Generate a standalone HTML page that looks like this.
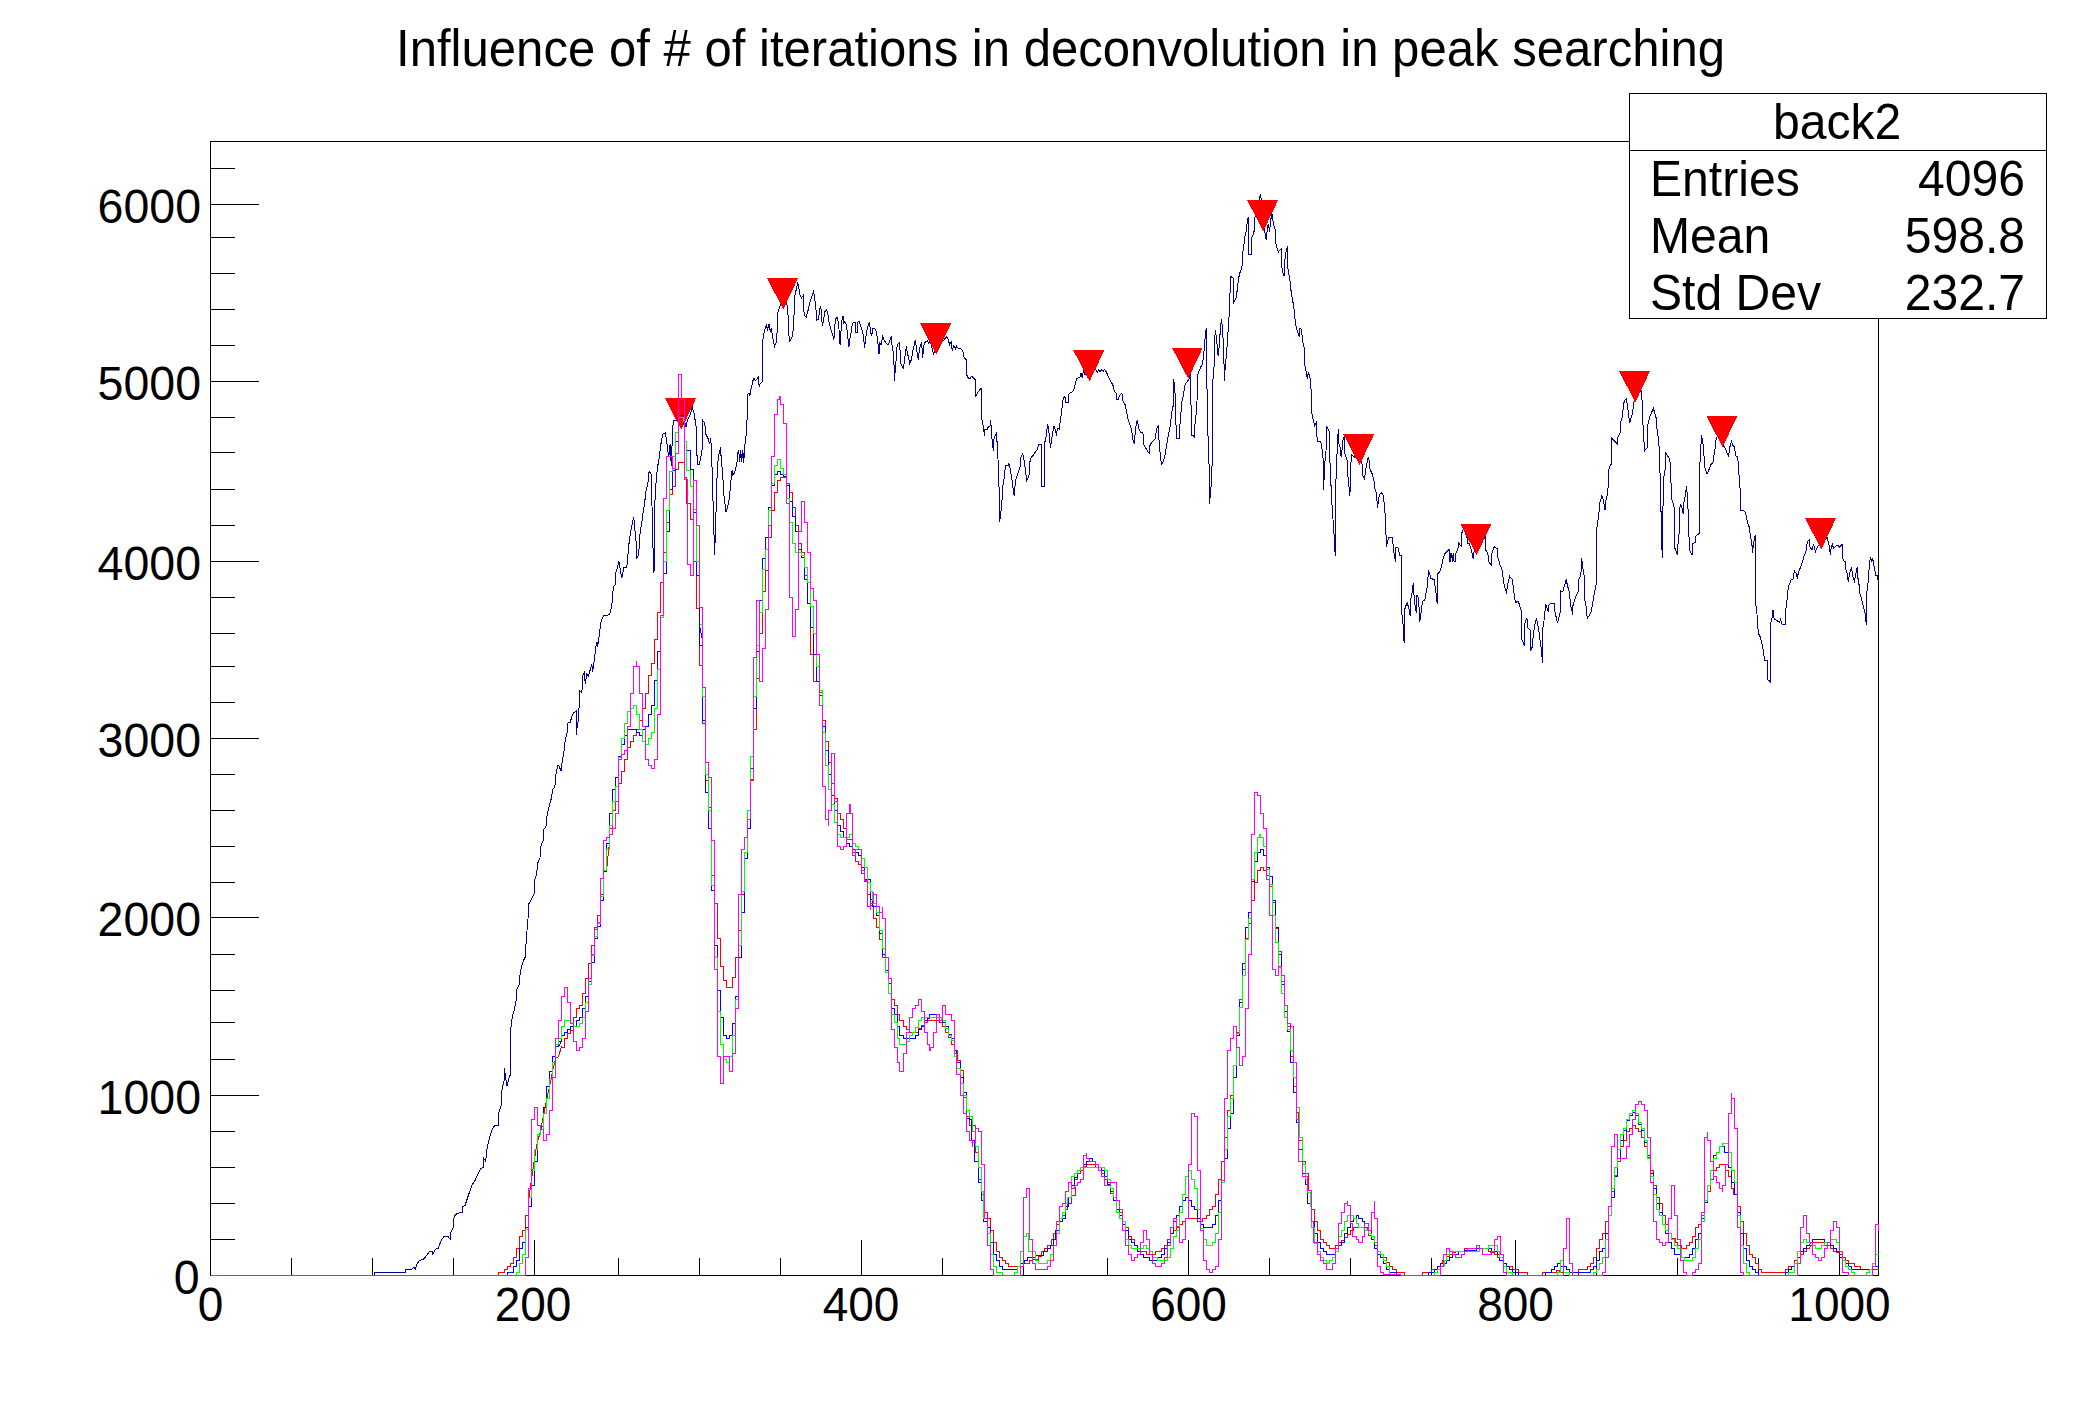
<!DOCTYPE html><html><head><meta charset="utf-8"><title>Influence of # of iterations in deconvolution in peak searching</title><style>html,body{margin:0;padding:0;background:#fff;overflow:hidden}svg{display:block}</style></head><body><svg width="2088" height="1416" viewBox="0 0 2088 1416">
<rect x="0" y="0" width="2088" height="1416" fill="#fff"/>
<g fill="none" stroke="#000" stroke-width="1" shape-rendering="crispEdges">
<rect x="210.5" y="141.5" width="1668" height="1134"/>
<path d="M210.5 168.5h24 M210.5 204.5h48 M210.5 237.5h24 M210.5 273.5h24 M210.5 309.5h24 M210.5 345.5h24 M210.5 381.5h48 M210.5 417.5h24 M210.5 452.5h24 M210.5 489.5h24 M210.5 525.5h24 M210.5 561.5h48 M210.5 597.5h24 M210.5 633.5h24 M210.5 666.5h24 M210.5 702.5h24 M210.5 738.5h48 M210.5 774.5h24 M210.5 810.5h24 M210.5 846.5h24 M210.5 882.5h24 M210.5 917.5h48 M210.5 954.5h24 M210.5 990.5h24 M210.5 1022.5h24 M210.5 1059.5h24 M210.5 1095.5h48 M210.5 1131.5h24 M210.5 1167.5h24 M210.5 1203.5h24 M210.5 1239.5h24 M291.5 1275.5v-18 M372.5 1275.5v-18 M453.5 1275.5v-18 M534.5 1275.5v-36 M618.5 1275.5v-18 M699.5 1275.5v-18 M780.5 1275.5v-18 M861.5 1275.5v-36 M942.5 1275.5v-18 M1023.5 1275.5v-18 M1107.5 1275.5v-18 M1188.5 1275.5v-36 M1269.5 1275.5v-18 M1350.5 1275.5v-18 M1431.5 1275.5v-18 M1515.5 1275.5v-36 M1596.5 1275.5v-18 M1677.5 1275.5v-18 M1758.5 1275.5v-18 M1839.5 1275.5v-36"/>
</g>
<path d="M374.9 1275.0L374.9 1272.4L405.6 1272.4L405.6 1269.4L412.5 1269.0L413.9 1267.1L415.1 1269.4L417.5 1263.1L419.5 1260.7L423.4 1259.1L425.4 1257.2L427.4 1254.2L429.3 1251.6L432.3 1251.6L432.9 1254.2L435.3 1249.3L438.2 1248.3L441.2 1240.4L444.2 1236.4L448.1 1236.4L450.1 1239.4L451.1 1231.5L453.1 1227.5L454.1 1216.6L457.0 1213.3L462.0 1212.7L462.6 1206.7L465.0 1205.7L466.9 1199.8L468.9 1193.9L471.9 1185.0L474.8 1181.0L477.8 1174.1L480.8 1168.2L483.2 1167.8L483.7 1158.3L485.7 1161.2L486.7 1150.3L489.7 1136.5L492.7 1128.2L494.6 1125.6L498.2 1125.6L498.6 1113.7L501.0 1105.8L502.1 1089.0L504.5 1079.1L504.5 1068.2L505.5 1077.2L507.1 1086.1L508.5 1079.1L510.1 1075.2L510.5 1031.7L512.4 1015.8L514.2 1010.1L515.9 1002.2L517.0 989.0L519.2 984.7L520.3 971.5L522.5 962.8L525.1 957.3L526.5 936.5L528.0 919.0L528.4 904.7L531.3 899.3L534.1 893.8L535.0 879.5L536.7 873.0L537.8 863.1L540.0 857.7L541.1 844.5L543.3 840.1L544.0 829.2L546.2 825.9L547.0 816.0L548.8 807.3L551.0 799.6L552.7 789.8L554.9 786.5L555.8 775.5L557.6 765.7L558.9 765.3L559.7 767.9L561.3 771.2L561.5 765.7L563.0 756.9L564.1 750.4L565.2 740.5L567.0 732.8L567.8 723.0L570.3 722.3L571.8 716.4L573.5 713.1L576.2 710.9L576.2 735.0L577.3 726.3L578.4 719.7L579.4 700.0L579.9 691.2L581.9 692.5L582.8 675.2L584.3 672.7L585.3 683.8L586.8 673.9L588.5 676.4L591.7 664.0L592.7 671.5L594.7 656.6L595.9 646.7L597.2 641.8L597.7 646.7L599.2 635.6L600.9 622.0L603.4 615.9L609.5 614.6L611.5 607.2L612.5 599.8L613.2 587.4L615.0 585.0L615.7 572.6L617.4 567.7L618.9 561.5L620.7 572.6L621.9 577.6L623.9 567.7L626.8 567.7L628.1 552.9L629.3 540.5L630.5 533.1L631.8 525.7L633.8 517.0L634.7 528.1L636.2 543.0L636.7 557.8L638.7 555.3L639.7 535.6L641.7 523.2L642.9 513.3L644.6 503.4L645.9 491.1L647.8 483.7L649.1 471.3L651.0 473.8L652.0 505.9L652.8 543.0L654.0 572.6L654.5 518.3L655.2 493.5L656.5 476.3L657.7 466.4L659.4 456.5L660.9 444.1L662.7 434.2L665.1 433.0L666.4 439.2L667.6 449.1L668.8 456.5L670.1 444.1L671.3 466.4L672.5 431.8L673.3 420.7L676.7 420.7L678.7 418.2L684.2 419.4L686.1 426.8L687.4 419.4L688.6 418.2L691.1 412.0L692.3 407.1L694.0 413.2L696.0 425.6L697.3 463.9L699.0 465.1L700.5 459.0L702.2 449.1L702.9 420.7L704.7 423.1L705.9 434.2L708.4 439.2L709.6 444.1L710.8 438.0L712.1 468.8L712.8 493.5L713.8 528.1L714.6 555.3L715.8 518.3L717.0 478.7L718.3 456.5L720.0 450.3L720.2 447.2L721.3 458.4L722.7 474.8L723.9 495.3L726.0 511.7L727.4 507.6L729.5 497.4L730.5 485.1L732.1 469.7L732.9 474.8L734.6 472.8L735.6 468.7L737.0 462.5L737.7 452.3L738.7 450.3L739.7 461.5L740.7 450.3L741.7 461.5L742.8 450.3L743.8 462.5L744.4 448.2L745.8 438.0L746.9 425.7L747.5 394.9L748.9 392.9L749.9 396.0L751.0 388.8L753.0 380.6L754.0 378.6L755.5 380.6L757.1 378.6L758.1 376.5L759.2 386.8L760.2 383.7L762.2 381.6L762.8 340.7L764.3 331.5L766.3 325.3L767.4 329.4L769.0 324.3L770.4 331.5L771.5 329.4L773.1 339.6L774.5 346.8L776.0 342.7L777.2 331.5L777.6 313.0L779.6 306.9L781.7 302.8L783.7 305.8L786.8 303.8L787.8 311.0L789.3 341.7L790.9 339.6L791.9 337.6L793.0 331.5L794.0 315.1L795.0 294.6L796.0 290.5L797.7 283.3L798.5 284.3L799.7 294.6L801.6 297.7L803.2 295.6L804.2 315.1L806.3 317.1L807.9 311.0L810.4 300.7L813.4 291.5L814.5 296.6L816.1 311.0L816.5 320.2L818.6 319.2L819.6 308.9L820.6 306.9L821.6 311.0L822.2 326.3L823.7 319.2L825.1 311.0L826.3 309.9L827.8 313.0L828.8 321.2L830.9 329.4L832.9 335.5L833.9 339.6L834.5 331.5L835.4 319.2L837.0 317.1L838.0 321.2L839.0 329.4L840.1 344.8L841.1 329.4L842.1 319.2L843.1 316.1L843.6 324.3L844.8 321.2L846.2 324.3L847.2 331.5L848.9 346.8L849.7 339.6L851.3 331.5L852.4 323.3L855.0 322.2L855.8 332.5L857.5 332.5L857.9 322.2L859.1 321.2L860.6 325.3L862.6 331.5L863.6 337.6L864.6 347.8L865.7 337.6L867.3 328.4L868.7 323.3L869.8 322.2L870.2 331.5L871.8 335.5L872.8 328.4L874.9 328.4L876.3 331.5L877.6 339.6L879.0 354.0L879.8 343.2L881.0 344.9L882.7 336.4L884.4 340.7L886.9 344.1L888.6 344.4L891.2 336.4L892.0 344.9L893.7 355.9L894.6 381.4L895.4 364.4L896.3 359.3L897.1 345.8L898.0 343.7L899.7 342.4L900.5 362.7L903.1 368.6L903.9 365.3L905.6 350.8L906.4 348.3L908.1 355.9L909.8 363.6L911.5 359.3L913.2 349.2L915.4 339.8L916.6 349.2L918.3 360.2L919.2 350.8L920.5 344.9L921.7 342.4L922.5 357.6L923.4 350.8L924.2 343.2L925.9 341.5L927.6 340.7L928.5 343.2L930.2 340.7L933.6 354.2L935.3 350.8L944.6 339.0L946.3 336.4L948.0 339.0L949.7 344.9L951.4 340.7L952.2 350.8L953.9 345.8L955.6 349.2L956.4 345.8L957.3 347.5L958.1 348.3L961.5 349.2L963.2 352.5L964.1 357.6L966.6 360.2L966.9 375.4L968.3 378.0L970.0 378.8L971.7 376.3L973.7 378.0L975.1 379.7L975.4 396.6L976.8 394.1L978.5 391.5L979.8 389.8L981.0 388.1L981.5 416.9L982.7 423.7L983.6 428.8L984.4 435.6L984.9 429.7L986.9 429.7L988.6 426.3L990.0 426.3L990.7 420.3L991.7 435.6L992.4 442.4L993.4 450.8L994.1 437.3L995.1 435.6L996.3 433.1L997.1 442.4L998.0 459.3L998.8 476.3L999.7 522.0L1000.5 513.6L1001.9 506.8L1002.2 489.8L1003.9 479.7L1005.6 465.3L1008.1 465.3L1008.6 462.7L1009.8 466.9L1011.5 476.3L1014.1 495.8L1014.9 486.4L1016.1 478.0L1017.5 474.6L1019.2 469.5L1020.0 466.9L1020.5 457.6L1022.5 454.2L1023.4 455.9L1025.1 467.8L1026.8 480.5L1028.0 478.0L1029.3 474.6L1029.7 462.7L1031.0 457.6L1032.7 455.9L1034.4 453.4L1036.9 450.0L1038.6 444.9L1041.2 444.9L1041.5 486.4L1044.2 486.4L1044.6 444.1L1045.4 439.0L1046.3 435.6L1047.6 423.7L1048.8 430.5L1050.5 447.5L1052.2 435.6L1053.9 426.3L1054.7 428.0L1055.6 430.5L1056.4 435.6L1057.3 428.8L1059.0 428.8L1059.2 429.7L1060.1 422.0L1061.8 410.2L1062.6 401.7L1064.3 396.6L1065.5 397.5L1066.0 402.5L1068.2 402.5L1068.6 394.1L1070.3 392.9L1072.8 391.5L1074.5 388.1L1075.3 383.9L1076.7 378.8L1077.9 378.0L1080.1 377.1L1080.8 372.9L1082.5 378.0L1083.0 372.9L1083.8 370.3L1084.7 374.6L1088.9 372.9L1095.7 369.5L1097.4 372.0L1098.7 369.8L1099.9 372.0L1101.6 369.8L1103.3 371.2L1104.5 369.5L1105.8 371.2L1107.5 374.6L1109.2 378.8L1111.8 383.1L1113.5 386.4L1114.3 391.5L1116.0 393.2L1116.4 399.2L1118.6 399.2L1119.4 395.8L1121.9 393.2L1122.8 400.8L1125.3 405.1L1126.2 410.2L1127.9 418.6L1129.6 423.7L1131.3 428.8L1133.0 439.8L1134.3 444.1L1135.5 428.8L1137.2 420.3L1138.9 428.8L1140.6 432.2L1142.8 432.2L1144.0 444.9L1146.5 449.2L1149.1 453.4L1149.9 445.8L1151.6 442.4L1153.3 440.7L1155.0 439.0L1155.8 433.9L1156.7 428.8L1158.1 426.3L1158.7 435.6L1160.1 452.5L1161.4 464.4L1163.5 461.0L1165.2 454.2L1166.9 444.1L1168.6 433.9L1170.3 425.4L1171.9 411.9L1173.3 405.1L1173.6 378.8L1174.5 386.4L1175.7 401.7L1176.2 438.1L1179.1 438.1L1179.6 428.8L1181.3 408.5L1182.1 400.0L1183.5 394.9L1184.7 386.4L1185.5 383.9L1187.2 381.4L1188.9 379.7L1189.7 377.1L1190.6 372.9L1191.4 435.6L1193.6 435.6L1194.3 438.1L1194.8 425.4L1196.0 415.3L1197.0 401.7L1197.4 376.3L1198.2 372.9L1199.9 369.5L1200.8 366.9L1202.5 364.4L1203.8 354.2L1204.5 344.1L1205.5 333.9L1206.2 328.0L1206.7 381.4L1207.5 401.7L1207.9 432.2L1209.2 469.5L1209.6 504.2L1210.6 489.8L1211.8 483.1L1212.6 418.6L1213.0 379.7L1214.0 367.8L1214.3 354.2L1215.2 330.5L1215.7 332.2L1216.9 342.4L1218.1 355.9L1219.1 347.5L1220.3 330.5L1221.4 318.6L1222.5 328.8L1223.6 349.2L1224.5 381.4L1225.3 364.4L1226.2 357.6L1227.0 347.5L1227.9 333.9L1228.7 322.0L1229.6 308.5L1229.7 300.5L1230.7 276.3L1233.2 278.2L1233.6 302.5L1235.5 299.6L1236.5 295.7L1238.4 280.1L1239.4 274.3L1241.4 268.5L1242.3 264.6L1242.9 252.0L1244.3 242.3L1244.9 236.5L1246.2 231.6L1247.2 221.9L1248.2 217.0L1248.7 254.9L1251.5 254.9L1252.0 237.4L1253.4 233.5L1254.6 229.7L1255.0 217.0L1256.9 212.2L1259.8 196.7L1260.8 194.7L1261.2 200.5L1264.7 230.6L1266.2 240.3L1267.6 226.7L1268.5 223.8L1269.5 231.6L1270.9 219.0L1272.0 214.1L1273.4 223.8L1275.3 229.7L1275.9 243.3L1277.3 249.1L1278.3 252.0L1280.2 250.0L1281.2 249.1L1282.1 270.4L1284.1 276.3L1285.0 258.8L1286.0 252.0L1287.6 246.2L1288.0 268.5L1289.9 280.1L1290.9 289.9L1292.8 301.5L1293.8 306.4L1294.8 317.0L1295.7 324.8L1297.7 332.6L1299.2 336.5L1300.0 327.7L1301.6 329.7L1302.5 340.3L1304.5 349.1L1305.0 365.6L1306.4 373.3L1307.4 379.2L1308.3 372.4L1309.7 376.3L1310.9 381.1L1311.3 410.2L1313.2 420.0L1314.8 425.8L1316.7 420.9L1317.1 441.3L1320.0 441.3L1321.0 443.3L1321.4 444.1L1322.3 451.4L1323.3 460.6L1323.5 490.0L1324.6 469.8L1325.1 458.8L1326.0 451.4L1326.4 426.6L1328.2 429.4L1329.3 431.2L1329.7 455.1L1330.6 477.2L1331.9 502.9L1333.0 519.4L1334.3 537.8L1335.2 556.2L1335.6 488.2L1336.7 464.3L1337.4 442.3L1338.3 429.4L1338.5 443.2L1339.8 445.0L1340.7 455.1L1341.6 456.0L1342.6 441.3L1344.0 436.7L1344.8 453.3L1345.9 457.0L1347.2 460.6L1348.1 479.0L1349.9 495.5L1350.5 479.0L1350.8 464.3L1351.7 455.1L1357.3 458.8L1361.8 460.6L1362.8 475.3L1364.6 479.9L1365.5 469.8L1366.4 466.1L1368.3 457.0L1369.2 460.6L1370.1 469.8L1372.0 473.5L1373.8 479.0L1374.7 488.2L1376.5 493.7L1377.5 507.5L1378.4 501.0L1379.3 494.6L1381.1 492.8L1383.0 494.6L1383.9 501.0L1384.8 510.2L1385.7 521.3L1386.3 547.0L1387.6 541.5L1388.9 537.8L1392.2 537.8L1393.1 545.1L1394.0 552.5L1395.5 561.7L1395.8 547.0L1396.8 547.0L1398.6 548.8L1399.5 555.2L1401.3 555.2L1401.7 613.1L1402.8 620.5L1404.1 642.5L1404.7 609.4L1405.9 605.8L1407.2 603.0L1408.7 607.6L1410.2 615.9L1410.9 598.4L1412.0 592.9L1413.3 582.8L1414.2 598.4L1415.1 605.8L1416.4 613.1L1417.0 594.7L1417.9 596.6L1418.8 602.1L1419.7 622.3L1421.2 611.3L1422.5 601.2L1424.3 600.3L1425.2 598.4L1426.2 592.0L1427.4 585.6L1428.5 570.9L1429.8 573.6L1430.7 578.2L1432.6 579.1L1434.4 579.1L1435.3 589.2L1436.3 594.7L1437.2 603.9L1437.7 573.6L1439.6 571.8L1440.8 569.0L1441.8 565.3L1443.2 558.0L1444.5 554.3L1445.8 552.5L1447.3 551.6L1448.7 549.7L1449.5 549.7L1450.0 561.7L1451.0 553.4L1451.9 556.2L1452.4 561.7L1453.2 552.7L1453.8 561.0L1455.3 561.6L1455.7 553.4L1457.0 550.8L1458.3 547.7L1458.6 543.2L1460.2 545.1L1461.4 546.4L1461.4 534.3L1462.7 530.5L1464.0 529.2L1467.2 538.1L1467.2 543.2L1469.1 543.2L1470.3 547.0L1471.6 550.8L1473.1 558.5L1473.5 553.4L1474.8 550.8L1479.2 543.2L1484.3 538.1L1485.3 536.9L1485.3 549.6L1486.2 550.8L1487.9 553.4L1488.4 561.6L1491.3 564.8L1491.9 553.4L1493.2 549.6L1494.5 546.4L1495.7 547.7L1497.3 548.9L1497.7 556.6L1499.6 563.5L1500.8 566.7L1502.7 572.4L1503.4 582.0L1504.6 586.4L1505.9 590.9L1506.6 594.0L1507.2 586.4L1508.5 581.3L1509.5 576.2L1511.0 578.2L1512.3 579.4L1513.5 589.0L1514.2 594.0L1514.8 598.5L1515.4 602.9L1516.7 601.7L1518.0 601.0L1519.3 604.2L1521.2 610.6L1521.4 638.5L1523.1 642.3L1524.3 645.5L1524.6 623.9L1525.6 620.7L1526.9 618.2L1527.8 627.7L1529.4 629.6L1530.1 630.3L1530.3 651.2L1531.3 649.3L1532.6 646.1L1533.2 634.7L1534.1 629.6L1535.1 623.3L1536.4 618.2L1537.7 624.5L1539.0 632.2L1540.2 641.1L1541.5 650.0L1542.5 663.3L1543.0 627.1L1544.0 620.7L1545.1 610.6L1545.6 604.2L1546.6 606.7L1547.6 609.3L1548.1 611.8L1548.5 605.5L1550.4 603.6L1551.7 603.6L1554.2 603.6L1554.8 610.6L1556.1 616.9L1557.4 623.3L1558.0 620.7L1559.3 615.6L1560.3 611.8L1560.6 590.9L1561.8 591.5L1563.4 590.9L1563.7 587.7L1565.0 583.9L1566.3 579.4L1567.5 586.4L1568.8 589.0L1569.5 594.0L1570.7 605.5L1572.0 610.6L1572.6 615.0L1573.0 605.5L1573.9 602.9L1575.2 597.9L1576.4 595.3L1577.7 592.8L1578.6 590.9L1579.0 579.4L1579.6 577.5L1580.9 575.0L1581.5 558.5L1582.4 563.5L1583.4 573.1L1584.5 576.2L1584.7 599.1L1586.0 605.5L1587.2 618.2L1589.2 615.6L1591.1 611.8L1592.3 605.5L1593.6 597.9L1594.9 590.2L1596.4 582.6L1596.8 528.0L1597.7 522.9L1598.4 516.5L1599.3 510.2L1600.0 502.5L1601.9 495.3L1603.3 500.4L1605.1 510.1L1605.6 501.9L1607.0 496.0L1607.8 491.6L1608.5 481.2L1608.5 470.8L1610.0 466.4L1611.5 463.4L1611.5 438.2L1613.7 440.4L1617.4 444.1L1617.4 438.2L1618.9 435.2L1620.4 432.3L1620.8 421.9L1622.6 416.0L1623.4 404.1L1624.8 400.4L1626.3 398.9L1627.8 408.5L1629.7 423.4L1630.8 418.9L1632.2 414.5L1633.3 407.1L1634.2 401.1L1637.4 395.2L1641.1 390.8L1641.9 396.7L1642.6 416.0L1643.4 433.7L1644.6 450.8L1645.6 449.3L1647.1 447.8L1647.5 426.3L1648.6 421.9L1650.0 416.0L1652.0 411.5L1653.4 408.5L1655.2 414.5L1656.4 418.9L1657.0 429.3L1658.2 436.7L1658.9 444.1L1659.7 458.9L1660.4 488.6L1661.2 518.2L1661.4 540.5L1662.6 558.3L1662.9 510.8L1663.4 491.6L1664.1 473.8L1664.9 473.8L1665.6 453.0L1667.8 456.0L1669.3 458.9L1670.8 464.9L1671.2 497.5L1673.0 503.4L1674.5 508.6L1674.8 547.9L1677.5 555.3L1678.2 540.5L1679.2 533.1L1680.1 504.2L1681.6 506.4L1683.1 513.8L1684.1 501.2L1685.6 494.5L1686.4 486.4L1687.1 493.0L1687.8 504.9L1688.6 519.7L1689.3 549.4L1692.3 555.3L1692.6 543.4L1695.2 542.7L1695.5 536.8L1697.5 534.5L1699.0 533.8L1699.0 472.3L1700.0 461.9L1700.9 450.0L1701.2 435.2L1702.7 441.2L1703.8 450.0L1704.4 466.4L1705.9 470.8L1707.1 473.8L1708.6 470.8L1710.1 466.4L1710.8 464.9L1713.0 462.6L1713.8 456.0L1715.3 447.1L1716.0 439.7L1717.5 435.2L1722.3 442.4L1723.3 445.6L1725.4 448.7L1727.5 454.0L1728.6 456.2L1729.7 447.7L1731.4 441.3L1732.8 445.6L1734.3 446.6L1736.0 456.2L1737.7 457.2L1738.6 467.8L1739.2 478.4L1740.3 491.1L1740.3 510.2L1743.4 510.2L1745.6 512.3L1746.6 518.7L1747.7 522.9L1749.2 527.1L1750.4 535.6L1751.9 544.1L1752.6 552.6L1753.4 544.1L1754.7 537.7L1755.5 534.6L1755.5 601.3L1757.2 616.1L1758.3 633.1L1760.4 637.3L1762.5 645.8L1763.6 652.2L1764.6 660.6L1767.4 660.6L1767.8 679.7L1770.4 681.8L1770.4 624.6L1772.0 618.3L1773.1 609.8L1774.2 619.3L1776.7 620.4L1779.5 622.5L1780.5 619.3L1781.6 623.6L1783.1 624.6L1785.2 624.6L1785.8 609.8L1786.9 601.3L1787.9 590.7L1789.0 585.4L1791.1 580.1L1793.2 579.1L1794.3 570.6L1796.4 573.8L1797.5 579.1L1797.9 574.8L1799.6 569.5L1801.7 564.2L1802.8 561.1L1803.8 556.8L1806.0 551.5L1806.4 546.2L1808.1 540.9L1809.1 539.9L1810.2 548.3L1812.3 549.4L1813.4 544.1L1815.5 551.5L1817.6 546.2L1821.8 544.1L1827.1 537.7L1829.3 546.2L1830.3 554.7L1831.4 546.2L1832.4 544.1L1833.5 548.3L1835.6 546.2L1837.7 545.2L1839.9 547.3L1842.0 544.1L1842.4 557.9L1844.1 561.1L1845.2 561.1L1845.8 569.5L1847.3 573.8L1848.3 582.2L1849.4 573.8L1851.5 567.4L1852.6 575.9L1854.3 581.2L1855.8 573.8L1857.2 567.4L1857.9 578.0L1858.9 582.2L1859.4 592.8L1861.1 597.1L1863.2 605.6L1864.9 611.9L1866.3 624.6L1867.0 590.7L1868.5 580.1L1869.5 561.1L1870.6 557.9L1871.6 561.1L1872.7 558.9L1874.8 569.5L1875.9 575.9L1877.6 575.9L1878.2 582.2" fill="none" stroke="#000099" stroke-width="1" shape-rendering="crispEdges"/>
<path d="M665.0 398.4H696.0L681.3 429.6ZM767.0 278.2H798.0L783.3 309.4ZM920.1 323.4H951.1L936.4 354.6ZM1073.3 350.3H1104.3L1089.6 381.5ZM1171.9 347.5H1202.9L1188.2 378.7ZM1247.1 200.1H1278.1L1263.4 231.3ZM1343.2 434.0H1374.2L1359.5 465.2ZM1460.3 523.9H1491.3L1476.6 555.1ZM1619.0 371.2H1650.0L1635.3 402.4ZM1706.3 415.9H1737.3L1722.6 447.1ZM1805.0 518.2H1836.0L1821.3 549.4Z" fill="#ff0000" stroke="none" shape-rendering="crispEdges"/>
<path d="M210.5 1275.5L495.5 1275.5L498.5 1275.5L498.5 1272.5L504.5 1272.5L504.5 1269.5L507.5 1269.5L507.5 1266.5L510.5 1266.5L510.5 1263.5L513.5 1263.5L513.5 1257.5L516.5 1257.5L516.5 1248.5L519.5 1248.5L519.5 1236.5L522.5 1236.5L522.5 1230.5L525.5 1230.5L525.5 1215.5L528.5 1215.5L528.5 1201.5L531.5 1179.5L534.5 1158.5L537.5 1141.5L540.5 1131.5L543.5 1115.5L546.5 1100.5L549.5 1086.5L552.5 1071.5L555.5 1058.5L558.5 1056.5L561.5 1046.5L561.5 1047.5L564.5 1047.5L564.5 1038.5L567.5 1038.5L567.5 1033.5L570.5 1033.5L570.5 1030.5L573.5 1030.5L573.5 1017.5L576.5 1017.5L576.5 1008.5L579.5 1008.5L579.5 1005.5L582.5 1005.5L582.5 993.5L585.5 993.5L585.5 978.5L588.5 978.5L588.5 963.5L591.5 963.5L591.5 945.5L594.5 945.5L594.5 927.5L597.5 927.5L597.5 915.5L600.5 915.5L600.5 894.5L603.5 894.5L603.5 871.5L606.5 871.5L606.5 870.5L609.5 842.5L609.5 828.5L612.5 828.5L612.5 810.5L615.5 810.5L615.5 801.5L618.5 801.5L618.5 783.5L621.5 783.5L621.5 771.5L624.5 771.5L624.5 759.5L627.5 759.5L627.5 747.5L630.5 747.5L630.5 741.5L633.5 741.5L633.5 735.5L636.5 735.5L636.5 729.5L639.5 729.5L639.5 720.5L642.5 720.5L642.5 708.5L645.5 708.5L645.5 693.5L648.5 693.5L648.5 675.5L651.5 675.5L651.5 663.5L654.5 663.5L654.5 639.5L657.5 639.5L657.5 620.5L657.5 612.5L660.5 612.5L660.5 582.5L663.5 582.5L663.5 552.5L666.5 552.5L666.5 522.5L669.5 522.5L669.5 494.5L672.5 494.5L672.5 486.5L675.5 486.5L675.5 469.5L678.5 469.5L678.5 462.5L684.5 462.5L684.5 477.5L686.5 477.5L686.5 503.5L690.5 503.5L690.5 519.5L693.5 519.5L693.5 561.5L696.5 561.5L696.5 608.5L699.5 608.5L699.5 640.5L699.5 620.5L699.5 665.5L702.5 665.5L702.5 723.5L705.5 723.5L705.5 780.5L708.5 780.5L708.5 807.5L711.5 807.5L711.5 860.5L711.5 860.5L711.5 875.5L714.5 875.5L714.5 903.5L717.5 903.5L717.5 938.5L720.5 938.5L720.5 966.5L723.5 966.5L723.5 980.5L726.5 980.5L726.5 987.5L732.5 987.5L732.5 977.5L735.5 977.5L735.5 957.5L738.5 957.5L738.5 930.5L741.5 930.5L741.5 894.5L744.5 894.5L744.5 860.5L744.5 860.5L744.5 852.5L747.5 852.5L747.5 828.5L750.5 828.5L750.5 780.5L753.5 780.5L753.5 729.5L756.5 729.5L756.5 678.5L759.5 678.5L759.5 633.5L762.5 633.5L762.5 620.5L762.5 620.5L762.5 591.5L765.5 591.5L765.5 570.5L768.5 570.5L768.5 537.5L771.5 537.5L771.5 510.5L774.5 510.5L774.5 492.5L777.5 492.5L777.5 480.5L780.5 480.5L780.5 477.5L786.5 477.5L786.5 483.5L789.5 483.5L789.5 492.5L792.5 492.5L792.5 507.5L795.5 507.5L795.5 525.5L798.5 525.5L798.5 543.5L801.5 543.5L801.5 552.5L804.5 552.5L804.5 575.5L807.5 575.5L807.5 582.5L810.5 582.5L810.5 639.5L810.5 639.5L810.5 654.5L813.5 654.5L813.5 681.5L819.5 681.5L819.5 692.5L822.5 692.5L822.5 720.5L825.5 720.5L825.5 741.5L828.5 741.5L828.5 762.5L831.5 762.5L831.5 783.5L834.5 783.5L834.5 798.5L837.5 798.5L837.5 813.5L840.5 813.5L840.5 819.5L843.5 819.5L843.5 828.5L846.5 828.5L846.5 839.5L852.5 839.5L852.5 852.5L855.5 852.5L855.5 861.5L858.5 861.5L858.5 864.5L861.5 864.5L861.5 873.5L864.5 873.5L864.5 881.5L867.5 881.5L867.5 894.5L870.5 894.5L870.5 900.5L870.5 899.5L870.5 905.5L873.5 905.5L873.5 918.5L876.5 918.5L876.5 927.5L879.5 927.5L879.5 939.5L882.5 939.5L882.5 957.5L885.5 957.5L885.5 970.5L888.5 970.5L888.5 983.5L891.5 983.5L891.5 999.5L894.5 999.5L894.5 1005.5L897.5 1005.5L897.5 1014.5L899.5 1014.5L899.5 1020.5L903.5 1020.5L903.5 1026.5L906.5 1026.5L906.5 1029.5L909.5 1029.5L909.5 1032.5L918.5 1032.5L918.5 1028.5L921.5 1028.5L921.5 1025.5L924.5 1025.5L924.5 1022.5L927.5 1022.5L927.5 1020.5L939.5 1020.5L939.5 1022.5L942.5 1022.5L942.5 1026.5L945.5 1026.5L945.5 1032.5L948.5 1032.5L948.5 1037.5L951.5 1037.5L951.5 1044.5L954.5 1044.5L954.5 1050.5L957.5 1050.5L957.5 1060.5L960.5 1060.5L960.5 1070.5L963.5 1070.5L963.5 1080.5L963.5 1097.5L966.5 1097.5L966.5 1116.5L969.5 1116.5L969.5 1125.5L971.5 1125.5L975.5 1125.5L975.5 1152.5L978.5 1152.5L978.5 1179.5L981.5 1179.5L981.5 1194.5L983.5 1194.5L983.5 1212.5L987.5 1212.5L987.5 1218.5L990.5 1218.5L990.5 1230.5L993.5 1230.5L993.5 1242.5L996.5 1242.5L996.5 1251.5L999.5 1251.5L999.5 1257.5L1002.5 1257.5L1002.5 1260.5L1005.5 1260.5L1005.5 1263.5L1008.5 1263.5L1008.5 1266.5L1020.5 1266.5L1020.5 1263.5L1029.5 1263.5L1029.5 1260.5L1032.5 1260.5L1032.5 1259.5L1038.5 1259.5L1038.5 1256.5L1041.5 1256.5L1041.5 1251.5L1044.5 1251.5L1044.5 1248.5L1047.5 1248.5L1047.5 1245.5L1051.5 1245.5L1051.5 1239.5L1053.5 1239.5L1053.5 1233.5L1056.5 1233.5L1056.5 1224.5L1059.5 1224.5L1059.5 1221.5L1062.5 1221.5L1062.5 1215.5L1065.5 1215.5L1065.5 1209.5L1067.5 1209.5L1067.5 1203.5L1071.5 1203.5L1071.5 1195.5L1075.5 1195.5L1075.5 1187.5L1074.5 1187.5L1074.5 1179.5L1077.5 1179.5L1077.5 1173.5L1080.5 1173.5L1080.5 1170.5L1083.5 1170.5L1083.5 1166.5L1086.5 1166.5L1086.5 1164.5L1095.5 1164.5L1095.5 1167.5L1098.5 1167.5L1098.5 1170.5L1101.5 1170.5L1101.5 1173.5L1104.5 1173.5L1104.5 1179.5L1107.5 1179.5L1107.5 1182.5L1110.5 1182.5L1110.5 1193.5L1113.5 1193.5L1113.5 1197.5L1116.5 1197.5L1116.5 1209.5L1119.5 1209.5L1119.5 1212.5L1122.5 1212.5L1122.5 1221.5L1125.5 1221.5L1125.5 1227.5L1128.5 1227.5L1128.5 1236.5L1131.5 1236.5L1131.5 1239.5L1134.5 1239.5L1134.5 1245.5L1137.5 1245.5L1137.5 1248.5L1140.5 1248.5L1140.5 1251.5L1146.5 1251.5L1146.5 1254.5L1155.5 1254.5L1155.5 1251.5L1161.5 1251.5L1161.5 1248.5L1164.5 1248.5L1164.5 1245.5L1167.5 1245.5L1167.5 1239.5L1170.5 1239.5L1170.5 1233.5L1173.5 1233.5L1173.5 1230.5L1176.5 1230.5L1176.5 1226.5L1179.5 1226.5L1179.5 1224.5L1182.5 1224.5L1182.5 1221.5L1185.5 1221.5L1185.5 1218.5L1197.5 1218.5L1197.5 1221.5L1200.5 1221.5L1199.5 1221.5L1202.5 1221.5L1202.5 1218.5L1206.5 1218.5L1206.5 1215.5L1209.5 1215.5L1209.5 1209.5L1212.5 1209.5L1212.5 1206.5L1215.5 1206.5L1215.5 1194.5L1218.5 1194.5L1218.5 1179.5L1221.5 1179.5L1221.5 1161.5L1224.5 1161.5L1224.5 1137.5L1227.5 1137.5L1227.5 1110.5L1230.5 1110.5L1230.5 1095.5L1233.5 1095.5L1233.5 1065.5L1236.5 1065.5L1236.5 1040.5L1236.5 1039.5L1236.5 1032.5L1239.5 1032.5L1239.5 999.5L1242.5 999.5L1242.5 969.5L1245.5 969.5L1245.5 938.5L1248.5 938.5L1248.5 923.5L1251.5 923.5L1251.5 900.5L1254.5 900.5L1254.5 882.5L1257.5 882.5L1257.5 870.5L1260.5 870.5L1260.5 867.5L1263.5 867.5L1263.5 870.5L1266.5 870.5L1266.5 875.5L1269.5 875.5L1269.5 886.5L1272.5 886.5L1272.5 902.5L1275.5 902.5L1275.5 928.5L1278.5 928.5L1278.5 951.5L1281.5 951.5L1281.5 981.5L1284.5 981.5L1284.5 1011.5L1287.5 1011.5L1287.5 1026.5L1290.5 1026.5L1290.5 1050.5L1290.5 1050.5L1290.5 1056.5L1293.5 1056.5L1293.5 1086.5L1296.5 1086.5L1296.5 1112.5L1298.5 1112.5L1298.5 1140.5L1302.5 1140.5L1302.5 1161.5L1305.5 1161.5L1305.5 1173.5L1308.5 1173.5L1308.5 1190.5L1311.5 1190.5L1311.5 1209.5L1314.5 1209.5L1314.5 1221.5L1317.5 1221.5L1317.5 1230.5L1320.5 1230.5L1320.5 1239.5L1323.5 1239.5L1323.5 1242.5L1326.5 1242.5L1326.5 1245.5L1329.5 1245.5L1329.5 1248.5L1335.5 1248.5L1335.5 1245.5L1338.5 1245.5L1338.5 1242.5L1341.5 1242.5L1341.5 1240.5L1344.5 1240.5L1344.5 1237.5L1347.5 1237.5L1347.5 1234.5L1350.5 1234.5L1350.5 1230.5L1353.5 1230.5L1353.5 1227.5L1367.5 1227.5L1367.5 1230.5L1368.5 1230.5L1368.5 1235.5L1371.5 1235.5L1371.5 1239.5L1374.5 1239.5L1374.5 1245.5L1377.5 1245.5L1377.5 1251.5L1380.5 1251.5L1380.5 1254.5L1383.5 1254.5L1383.5 1257.5L1386.5 1257.5L1386.5 1262.5L1389.5 1262.5L1389.5 1266.5L1392.5 1266.5L1392.5 1269.5L1396.5 1269.5L1396.5 1272.5L1400.5 1272.5L1400.5 1272.5L1404.5 1272.5L1404.5 1275.5L1422.5 1275.5L1422.5 1272.5L1431.5 1272.5L1431.5 1269.5L1437.5 1269.5L1437.5 1266.5L1440.5 1266.5L1440.5 1263.5L1442.5 1263.5L1442.5 1260.5L1446.5 1260.5L1446.5 1256.5L1449.5 1256.5L1449.5 1254.5L1452.5 1254.5L1452.5 1252.5L1455.5 1252.5L1455.5 1251.5L1464.5 1251.5L1464.5 1248.5L1479.5 1248.5L1479.5 1248.5L1488.5 1248.5L1488.5 1251.5L1490.5 1251.5L1490.5 1252.5L1494.5 1252.5L1494.5 1254.5L1497.5 1254.5L1497.5 1257.5L1499.5 1257.5L1499.5 1260.5L1503.5 1260.5L1503.5 1263.5L1506.5 1263.5L1506.5 1266.5L1512.5 1266.5L1512.5 1269.5L1518.5 1269.5L1518.5 1272.5L1527.5 1272.5L1527.5 1275.5L1542.5 1275.5L1542.5 1272.5L1556.5 1272.5L1556.5 1270.5L1560.5 1270.5L1559.5 1272.5L1572.5 1272.5L1572.5 1275.5L1578.5 1275.5L1578.5 1269.5L1587.5 1269.5L1587.5 1266.5L1590.5 1266.5L1590.5 1263.5L1593.5 1263.5L1593.5 1257.5L1596.5 1257.5L1596.5 1248.5L1599.5 1248.5L1599.5 1239.5L1602.5 1239.5L1602.5 1233.5L1605.5 1233.5L1605.5 1221.5L1608.5 1221.5L1608.5 1206.5L1611.5 1206.5L1611.5 1191.5L1614.5 1191.5L1614.5 1175.5L1617.5 1175.5L1617.5 1161.5L1620.5 1161.5L1620.5 1146.5L1623.5 1146.5L1623.5 1140.5L1626.5 1140.5L1626.5 1131.5L1629.5 1131.5L1629.5 1128.5L1632.5 1128.5L1632.5 1125.5L1635.5 1125.5L1635.5 1128.5L1638.5 1128.5L1638.5 1131.5L1641.5 1131.5L1641.5 1137.5L1644.5 1137.5L1644.5 1146.5L1647.5 1146.5L1647.5 1157.5L1650.5 1157.5L1650.5 1170.5L1653.5 1170.5L1653.5 1185.5L1656.5 1185.5L1656.5 1197.5L1659.5 1197.5L1659.5 1203.5L1662.5 1203.5L1662.5 1215.5L1665.5 1215.5L1665.5 1224.5L1668.5 1224.5L1668.5 1233.5L1671.5 1233.5L1671.5 1238.5L1675.5 1238.5L1675.5 1242.5L1677.5 1242.5L1677.5 1245.5L1681.5 1245.5L1681.5 1248.5L1684.5 1248.5L1684.5 1248.5L1686.5 1248.5L1686.5 1245.5L1689.5 1245.5L1689.5 1242.5L1692.5 1242.5L1692.5 1236.5L1695.5 1236.5L1695.5 1227.5L1698.5 1227.5L1698.5 1224.5L1701.5 1224.5L1701.5 1215.5L1704.5 1215.5L1704.5 1202.5L1707.5 1202.5L1707.5 1191.5L1710.5 1191.5L1710.5 1179.5L1713.5 1179.5L1713.5 1170.5L1716.5 1170.5L1716.5 1167.5L1719.5 1167.5L1719.5 1164.5L1725.5 1164.5L1725.5 1170.5L1728.5 1170.5L1728.5 1176.5L1731.5 1176.5L1731.5 1188.5L1733.5 1188.5L1733.5 1194.5L1737.5 1194.5L1737.5 1206.5L1740.5 1206.5L1740.5 1221.5L1743.5 1221.5L1743.5 1233.5L1746.5 1233.5L1746.5 1245.5L1749.5 1245.5L1749.5 1254.5L1752.5 1254.5L1752.5 1257.5L1755.5 1257.5L1755.5 1263.5L1758.5 1263.5L1758.5 1269.5L1761.5 1269.5L1761.5 1272.5L1785.5 1272.5L1785.5 1269.5L1788.5 1269.5L1788.5 1266.5L1794.5 1266.5L1794.5 1260.5L1797.5 1260.5L1797.5 1257.5L1800.5 1257.5L1800.5 1254.5L1803.5 1254.5L1803.5 1251.5L1806.5 1251.5L1806.5 1248.5L1809.5 1248.5L1810.5 1245.5L1812.5 1245.5L1812.5 1242.5L1824.5 1242.5L1824.5 1245.5L1830.5 1245.5L1830.5 1248.5L1833.5 1248.5L1833.5 1251.5L1836.5 1251.5L1836.5 1252.5L1839.5 1252.5L1839.5 1254.5L1842.5 1254.5L1842.5 1257.5L1845.5 1257.5L1845.5 1260.5L1848.5 1260.5L1848.5 1263.5L1854.5 1263.5L1854.5 1266.5L1860.5 1266.5L1860.5 1269.5L1878.5 1269.5" fill="none" stroke="#ff0000" stroke-width="1" shape-rendering="crispEdges"/>
<path d="M210.5 1275.5L495.5 1275.5L507.5 1275.5L507.5 1272.5L513.5 1272.5L513.5 1266.5L516.5 1266.5L516.5 1260.5L519.5 1260.5L519.5 1248.5L522.5 1248.5L522.5 1242.5L525.5 1242.5L525.5 1227.5L528.5 1227.5L528.5 1206.5L531.5 1206.5L531.5 1185.5L534.5 1185.5L534.5 1161.5L537.5 1161.5L537.5 1134.5L540.5 1134.5L540.5 1126.5L543.5 1126.5L543.5 1107.5L546.5 1107.5L546.5 1086.5L549.5 1086.5L549.5 1071.5L552.5 1071.5L552.5 1056.5L555.5 1056.5L555.5 1046.5L558.5 1046.5L558.5 1041.5L561.5 1041.5L558.5 1046.5L558.5 1041.5L561.5 1041.5L561.5 1035.5L564.5 1035.5L564.5 1032.5L567.5 1032.5L567.5 1029.5L570.5 1029.5L570.5 1026.5L576.5 1026.5L576.5 1020.5L579.5 1020.5L579.5 1017.5L582.5 1017.5L582.5 1008.5L585.5 1008.5L585.5 996.5L588.5 996.5L588.5 981.5L591.5 981.5L591.5 962.5L594.5 962.5L594.5 938.5L597.5 938.5L597.5 926.5L600.5 926.5L600.5 900.5L603.5 900.5L603.5 871.5L606.5 871.5L606.5 870.5L606.5 843.5L609.5 843.5L609.5 813.5L612.5 813.5L612.5 789.5L615.5 789.5L615.5 777.5L618.5 777.5L618.5 756.5L621.5 756.5L621.5 744.5L624.5 744.5L624.5 735.5L627.5 735.5L627.5 729.5L636.5 729.5L636.5 732.5L639.5 732.5L639.5 735.5L642.5 735.5L642.5 729.5L645.5 729.5L645.5 726.5L648.5 726.5L648.5 714.5L651.5 714.5L651.5 705.5L654.5 705.5L654.5 680.5L657.5 680.5L657.5 651.5L660.5 651.5L660.5 620.5L660.5 615.5L663.5 615.5L663.5 573.5L666.5 573.5L666.5 531.5L669.5 531.5L669.5 489.5L672.5 489.5L672.5 470.5L675.5 470.5L675.5 441.5L678.5 441.5L678.5 415.5L683.5 415.5L683.5 423.5L684.5 423.5L684.5 441.5L686.5 441.5L686.5 450.5L690.5 450.5L690.5 469.5L693.5 469.5L693.5 512.5L696.5 512.5L696.5 575.5L699.5 575.5L699.5 624.5L702.5 624.5L702.5 640.5L699.5 625.5L699.5 645.5L702.5 645.5L702.5 720.5L705.5 720.5L705.5 792.5L708.5 792.5L708.5 828.5L711.5 828.5L711.5 860.5L711.5 860.5L711.5 890.5L714.5 890.5L714.5 945.5L717.5 945.5L717.5 990.5L720.5 990.5L720.5 1017.5L723.5 1017.5L723.5 1035.5L726.5 1035.5L726.5 1038.5L729.5 1038.5L729.5 1035.5L732.5 1035.5L732.5 1023.5L735.5 1023.5L735.5 996.5L738.5 996.5L738.5 957.5L741.5 957.5L741.5 912.5L744.5 912.5L744.5 860.5L744.5 860.5L744.5 858.5L747.5 858.5L747.5 828.5L750.5 828.5L750.5 768.5L753.5 768.5L753.5 708.5L756.5 708.5L756.5 651.5L759.5 651.5L759.5 620.5L759.5 620.5L759.5 600.5L762.5 600.5L762.5 558.5L765.5 558.5L765.5 537.5L768.5 537.5L768.5 507.5L771.5 507.5L771.5 485.5L774.5 485.5L774.5 474.5L777.5 474.5L777.5 471.5L780.5 471.5L780.5 474.5L783.5 474.5L783.5 476.5L786.5 476.5L786.5 485.5L789.5 485.5L789.5 501.5L792.5 501.5L792.5 516.5L795.5 516.5L795.5 531.5L798.5 531.5L798.5 549.5L801.5 549.5L801.5 557.5L804.5 557.5L804.5 579.5L807.5 579.5L807.5 603.5L810.5 603.5L810.5 627.5L813.5 627.5L813.5 639.5L813.5 639.5L813.5 654.5L816.5 654.5L816.5 681.5L819.5 681.5L819.5 695.5L822.5 695.5L822.5 726.5L825.5 726.5L825.5 750.5L828.5 750.5L828.5 774.5L831.5 774.5L831.5 795.5L834.5 795.5L834.5 810.5L837.5 810.5L837.5 825.5L840.5 825.5L840.5 831.5L843.5 831.5L843.5 837.5L846.5 837.5L846.5 843.5L849.5 843.5L849.5 846.5L852.5 846.5L852.5 849.5L855.5 849.5L855.5 852.5L858.5 852.5L858.5 855.5L861.5 855.5L861.5 867.5L864.5 867.5L864.5 879.5L870.5 879.5L870.5 900.5L870.5 899.5L872.5 899.5L872.5 906.5L876.5 906.5L876.5 915.5L879.5 915.5L879.5 933.5L882.5 933.5L882.5 954.5L885.5 954.5L885.5 970.5L888.5 970.5L888.5 983.5L891.5 983.5L891.5 1008.5L894.5 1008.5L894.5 1014.5L897.5 1014.5L897.5 1026.5L899.5 1026.5L899.5 1035.5L903.5 1035.5L903.5 1038.5L915.5 1038.5L915.5 1035.5L918.5 1035.5L918.5 1029.5L921.5 1029.5L921.5 1026.5L924.5 1026.5L924.5 1020.5L927.5 1020.5L927.5 1018.5L929.5 1018.5L929.5 1014.5L936.5 1014.5L936.5 1017.5L942.5 1017.5L942.5 1022.5L945.5 1022.5L945.5 1026.5L948.5 1026.5L948.5 1034.5L951.5 1034.5L951.5 1038.5L954.5 1038.5L954.5 1050.5L956.5 1050.5L956.5 1062.5L960.5 1062.5L960.5 1077.5L963.5 1077.5L963.5 1092.5L966.5 1092.5L966.5 1092.5L966.5 1118.5L969.5 1118.5L969.5 1119.5L971.5 1119.5L971.5 1140.5L974.5 1140.5L974.5 1161.5L978.5 1161.5L978.5 1182.5L981.5 1182.5L981.5 1200.5L983.5 1200.5L983.5 1221.5L987.5 1221.5L987.5 1227.5L990.5 1227.5L990.5 1242.5L993.5 1242.5L993.5 1254.5L996.5 1254.5L996.5 1260.5L999.5 1260.5L999.5 1266.5L1002.5 1266.5L1002.5 1269.5L1017.5 1269.5L1017.5 1266.5L1020.5 1266.5L1020.5 1263.5L1024.5 1263.5L1024.5 1260.5L1027.5 1260.5L1027.5 1257.5L1035.5 1257.5L1035.5 1255.5L1043.5 1255.5L1043.5 1251.5L1047.5 1251.5L1047.5 1248.5L1050.5 1248.5L1050.5 1245.5L1053.5 1245.5L1053.5 1239.5L1055.5 1239.5L1055.5 1230.5L1059.5 1230.5L1059.5 1221.5L1062.5 1221.5L1062.5 1218.5L1065.5 1218.5L1065.5 1206.5L1068.5 1206.5L1068.5 1197.5L1071.5 1197.5L1071.5 1185.5L1074.5 1185.5L1074.5 1177.5L1074.5 1177.5L1074.5 1177.5L1077.5 1177.5L1077.5 1170.5L1080.5 1170.5L1080.5 1167.5L1083.5 1167.5L1083.5 1164.5L1086.5 1164.5L1086.5 1161.5L1089.5 1161.5L1089.5 1158.5L1092.5 1158.5L1092.5 1161.5L1095.5 1161.5L1095.5 1164.5L1098.5 1164.5L1098.5 1167.5L1101.5 1167.5L1101.5 1170.5L1104.5 1170.5L1104.5 1176.5L1107.5 1176.5L1107.5 1184.5L1110.5 1184.5L1110.5 1191.5L1113.5 1191.5L1113.5 1200.5L1116.5 1200.5L1116.5 1209.5L1119.5 1209.5L1119.5 1215.5L1122.5 1215.5L1122.5 1224.5L1125.5 1224.5L1125.5 1230.5L1128.5 1230.5L1128.5 1239.5L1131.5 1239.5L1131.5 1242.5L1134.5 1242.5L1134.5 1245.5L1137.5 1245.5L1137.5 1251.5L1140.5 1251.5L1140.5 1254.5L1143.5 1254.5L1143.5 1257.5L1149.5 1257.5L1149.5 1260.5L1157.5 1260.5L1157.5 1257.5L1161.5 1257.5L1161.5 1254.5L1164.5 1254.5L1164.5 1248.5L1167.5 1248.5L1167.5 1242.5L1170.5 1242.5L1170.5 1233.5L1173.5 1233.5L1173.5 1221.5L1176.5 1221.5L1176.5 1215.5L1179.5 1215.5L1179.5 1206.5L1182.5 1206.5L1182.5 1200.5L1185.5 1200.5L1185.5 1197.5L1188.5 1197.5L1188.5 1200.5L1191.5 1200.5L1191.5 1206.5L1194.5 1206.5L1194.5 1209.5L1197.5 1209.5L1197.5 1218.5L1200.5 1218.5L1199.5 1218.5L1200.5 1218.5L1200.5 1224.5L1203.5 1224.5L1203.5 1227.5L1212.5 1227.5L1212.5 1224.5L1215.5 1224.5L1215.5 1215.5L1218.5 1215.5L1218.5 1200.5L1221.5 1200.5L1221.5 1180.5L1224.5 1180.5L1224.5 1158.5L1227.5 1158.5L1227.5 1128.5L1230.5 1128.5L1230.5 1113.5L1233.5 1113.5L1233.5 1077.5L1236.5 1077.5L1236.5 1040.5L1236.5 1039.5L1236.5 1035.5L1239.5 1035.5L1239.5 1002.5L1242.5 1002.5L1242.5 963.5L1245.5 963.5L1245.5 927.5L1248.5 927.5L1248.5 912.5L1251.5 912.5L1251.5 881.5L1254.5 881.5L1254.5 861.5L1257.5 861.5L1257.5 852.5L1260.5 852.5L1260.5 849.5L1263.5 849.5L1263.5 855.5L1266.5 855.5L1266.5 867.5L1269.5 867.5L1269.5 876.5L1272.5 876.5L1272.5 900.5L1275.5 900.5L1275.5 927.5L1278.5 927.5L1278.5 954.5L1281.5 954.5L1281.5 984.5L1284.5 984.5L1284.5 1011.5L1287.5 1011.5L1287.5 1031.5L1290.5 1031.5L1290.5 1050.5L1290.5 1050.5L1290.5 1062.5L1293.5 1062.5L1293.5 1092.5L1296.5 1092.5L1296.5 1122.5L1298.5 1122.5L1298.5 1149.5L1302.5 1149.5L1302.5 1173.5L1305.5 1173.5L1305.5 1184.5L1307.5 1184.5L1307.5 1203.5L1311.5 1203.5L1311.5 1221.5L1314.5 1221.5L1314.5 1233.5L1317.5 1233.5L1317.5 1242.5L1320.5 1242.5L1320.5 1248.5L1323.5 1248.5L1323.5 1251.5L1326.5 1251.5L1326.5 1254.5L1335.5 1254.5L1335.5 1248.5L1338.5 1248.5L1338.5 1245.5L1341.5 1245.5L1341.5 1242.5L1344.5 1242.5L1344.5 1233.5L1347.5 1233.5L1347.5 1227.5L1350.5 1227.5L1350.5 1221.5L1353.5 1221.5L1353.5 1218.5L1356.5 1218.5L1356.5 1215.5L1358.5 1215.5L1358.5 1218.5L1362.5 1218.5L1362.5 1221.5L1364.5 1221.5L1364.5 1223.5L1368.5 1223.5L1368.5 1230.5L1371.5 1230.5L1371.5 1239.5L1374.5 1239.5L1374.5 1248.5L1377.5 1248.5L1377.5 1254.5L1380.5 1254.5L1380.5 1257.5L1383.5 1257.5L1383.5 1263.5L1386.5 1263.5L1386.5 1269.5L1389.5 1269.5L1389.5 1272.5L1396.5 1272.5L1396.5 1274.5L1400.5 1274.5L1400.5 1275.5L1428.5 1275.5L1428.5 1272.5L1434.5 1272.5L1434.5 1269.5L1437.5 1269.5L1437.5 1266.5L1440.5 1266.5L1440.5 1263.5L1446.5 1263.5L1446.5 1260.5L1449.5 1260.5L1449.5 1257.5L1452.5 1257.5L1452.5 1254.5L1458.5 1254.5L1458.5 1251.5L1464.5 1251.5L1464.5 1250.5L1476.5 1250.5L1476.5 1248.5L1479.5 1248.5L1479.5 1248.5L1491.5 1248.5L1491.5 1251.5L1497.5 1251.5L1497.5 1254.5L1499.5 1254.5L1499.5 1260.5L1503.5 1260.5L1503.5 1263.5L1506.5 1263.5L1506.5 1266.5L1509.5 1266.5L1509.5 1269.5L1512.5 1269.5L1512.5 1272.5L1518.5 1272.5L1518.5 1275.5L1545.5 1275.5L1545.5 1272.5L1551.5 1272.5L1551.5 1269.5L1554.5 1269.5L1554.5 1266.5L1557.5 1266.5L1557.5 1263.5L1560.5 1263.5L1559.5 1263.5L1560.5 1263.5L1560.5 1266.5L1566.5 1266.5L1566.5 1269.5L1569.5 1269.5L1569.5 1272.5L1590.5 1272.5L1590.5 1269.5L1593.5 1269.5L1593.5 1266.5L1596.5 1266.5L1596.5 1260.5L1599.5 1260.5L1599.5 1251.5L1602.5 1251.5L1602.5 1248.5L1605.5 1248.5L1605.5 1233.5L1608.5 1233.5L1608.5 1215.5L1611.5 1215.5L1611.5 1197.5L1614.5 1197.5L1614.5 1176.5L1617.5 1176.5L1617.5 1158.5L1620.5 1158.5L1620.5 1140.5L1623.5 1140.5L1623.5 1130.5L1626.5 1130.5L1626.5 1120.5L1629.5 1120.5L1629.5 1115.5L1632.5 1115.5L1632.5 1112.5L1635.5 1112.5L1635.5 1115.5L1638.5 1115.5L1638.5 1124.5L1641.5 1124.5L1641.5 1130.5L1644.5 1130.5L1644.5 1142.5L1647.5 1142.5L1647.5 1155.5L1650.5 1155.5L1650.5 1173.5L1653.5 1173.5L1653.5 1188.5L1656.5 1188.5L1656.5 1203.5L1659.5 1203.5L1659.5 1212.5L1662.5 1212.5L1662.5 1224.5L1665.5 1224.5L1665.5 1233.5L1668.5 1233.5L1668.5 1242.5L1671.5 1242.5L1671.5 1248.5L1674.5 1248.5L1674.5 1254.5L1680.5 1254.5L1680.5 1257.5L1684.5 1257.5L1684.5 1257.5L1689.5 1257.5L1689.5 1254.5L1692.5 1254.5L1692.5 1248.5L1695.5 1248.5L1695.5 1239.5L1698.5 1239.5L1698.5 1233.5L1701.5 1233.5L1701.5 1218.5L1704.5 1218.5L1704.5 1202.5L1707.5 1202.5L1707.5 1185.5L1710.5 1185.5L1710.5 1170.5L1713.5 1170.5L1713.5 1155.5L1716.5 1155.5L1716.5 1152.5L1719.5 1152.5L1719.5 1146.5L1724.5 1146.5L1724.5 1152.5L1728.5 1152.5L1728.5 1167.5L1731.5 1167.5L1731.5 1182.5L1734.5 1182.5L1734.5 1194.5L1737.5 1194.5L1737.5 1212.5L1740.5 1212.5L1740.5 1233.5L1743.5 1233.5L1743.5 1248.5L1746.5 1248.5L1746.5 1260.5L1749.5 1260.5L1749.5 1266.5L1752.5 1266.5L1752.5 1269.5L1755.5 1269.5L1755.5 1272.5L1758.5 1272.5L1758.5 1275.5L1785.5 1275.5L1785.5 1272.5L1788.5 1272.5L1788.5 1269.5L1791.5 1269.5L1791.5 1266.5L1794.5 1266.5L1794.5 1263.5L1797.5 1263.5L1797.5 1257.5L1800.5 1257.5L1800.5 1251.5L1803.5 1251.5L1803.5 1248.5L1806.5 1248.5L1806.5 1245.5L1809.5 1245.5L1810.5 1242.5L1812.5 1242.5L1812.5 1239.5L1824.5 1239.5L1824.5 1242.5L1830.5 1242.5L1830.5 1245.5L1833.5 1245.5L1833.5 1248.5L1836.5 1248.5L1836.5 1251.5L1839.5 1251.5L1839.5 1257.5L1842.5 1257.5L1842.5 1260.5L1845.5 1260.5L1845.5 1263.5L1848.5 1263.5L1848.5 1266.5L1851.5 1266.5L1851.5 1269.5L1872.5 1269.5L1872.5 1266.5L1878.5 1266.5" fill="none" stroke="#0000ff" stroke-width="1" shape-rendering="crispEdges"/>
<path d="M210.5 1275.5L495.5 1275.5L516.5 1275.5L516.5 1272.5L519.5 1272.5L519.5 1263.5L522.5 1263.5L522.5 1254.5L525.5 1254.5L525.5 1229.5L528.5 1229.5L528.5 1197.5L531.5 1197.5L531.5 1170.5L534.5 1170.5L534.5 1149.5L537.5 1149.5L537.5 1134.5L540.5 1134.5L540.5 1129.5L543.5 1129.5L543.5 1113.5L546.5 1113.5L546.5 1098.5L549.5 1098.5L549.5 1079.5L552.5 1079.5L552.5 1062.5L555.5 1062.5L555.5 1044.5L558.5 1044.5L555.5 1044.5L558.5 1044.5L558.5 1038.5L561.5 1038.5L561.5 1026.5L564.5 1026.5L564.5 1020.5L570.5 1020.5L570.5 1023.5L573.5 1023.5L573.5 1026.5L579.5 1026.5L579.5 1023.5L582.5 1023.5L582.5 1017.5L585.5 1017.5L585.5 1002.5L588.5 1002.5L588.5 984.5L591.5 984.5L591.5 955.5L594.5 955.5L594.5 936.5L597.5 936.5L597.5 923.5L600.5 923.5L600.5 896.5L603.5 896.5L603.5 870.5L606.5 870.5L606.5 870.5L606.5 849.5L609.5 849.5L609.5 825.5L612.5 825.5L612.5 801.5L615.5 801.5L615.5 786.5L618.5 786.5L618.5 757.5L621.5 757.5L621.5 738.5L624.5 738.5L624.5 723.5L627.5 723.5L627.5 711.5L630.5 711.5L630.5 708.5L633.5 708.5L633.5 705.5L636.5 705.5L636.5 714.5L639.5 714.5L639.5 729.5L642.5 729.5L642.5 741.5L645.5 741.5L645.5 744.5L648.5 744.5L648.5 738.5L651.5 738.5L651.5 732.5L654.5 732.5L654.5 708.5L657.5 708.5L657.5 669.5L660.5 669.5L660.5 620.5L660.5 617.5L663.5 617.5L663.5 561.5L666.5 561.5L666.5 510.5L669.5 510.5L669.5 471.5L672.5 471.5L672.5 456.5L675.5 456.5L675.5 432.5L678.5 432.5L678.5 417.5L683.5 417.5L683.5 421.5L684.5 421.5L684.5 441.5L686.5 441.5L686.5 470.5L690.5 470.5L690.5 486.5L693.5 486.5L693.5 509.5L696.5 509.5L696.5 561.5L699.5 561.5L699.5 607.5L702.5 607.5L702.5 624.5L699.5 624.5L702.5 624.5L702.5 696.5L705.5 696.5L705.5 774.5L708.5 774.5L708.5 810.5L711.5 810.5L711.5 860.5L711.5 860.5L711.5 885.5L714.5 885.5L714.5 957.5L717.5 957.5L717.5 1011.5L720.5 1011.5L720.5 1044.5L723.5 1044.5L723.5 1059.5L726.5 1059.5L726.5 1062.5L729.5 1062.5L729.5 1056.5L732.5 1056.5L732.5 1035.5L735.5 1035.5L735.5 999.5L738.5 999.5L738.5 945.5L741.5 945.5L741.5 891.5L744.5 891.5L744.5 860.5L744.5 860.5L744.5 852.5L747.5 852.5L747.5 810.5L750.5 810.5L750.5 756.5L753.5 756.5L753.5 696.5L756.5 696.5L756.5 645.5L759.5 645.5L759.5 620.5L759.5 620.5L759.5 612.5L762.5 612.5L762.5 569.5L765.5 569.5L765.5 549.5L768.5 549.5L768.5 510.5L771.5 510.5L771.5 483.5L774.5 483.5L774.5 465.5L777.5 465.5L777.5 459.5L780.5 459.5L780.5 468.5L783.5 468.5L783.5 474.5L786.5 474.5L786.5 498.5L789.5 498.5L789.5 522.5L792.5 522.5L792.5 543.5L795.5 543.5L795.5 552.5L801.5 552.5L801.5 555.5L804.5 555.5L804.5 567.5L807.5 567.5L807.5 582.5L810.5 582.5L810.5 606.5L813.5 606.5L813.5 633.5L816.5 633.5L816.5 639.5L816.5 639.5L816.5 666.5L819.5 666.5L819.5 690.5L822.5 690.5L822.5 732.5L825.5 732.5L825.5 765.5L828.5 765.5L828.5 789.5L831.5 789.5L831.5 804.5L834.5 804.5L834.5 822.5L837.5 822.5L837.5 834.5L840.5 834.5L840.5 837.5L849.5 837.5L849.5 834.5L852.5 834.5L852.5 843.5L855.5 843.5L855.5 846.5L858.5 846.5L858.5 849.5L861.5 849.5L861.5 858.5L864.5 858.5L864.5 867.5L867.5 867.5L867.5 882.5L870.5 882.5L870.5 891.5L872.5 891.5L872.5 900.5L873.5 899.5L873.5 903.5L876.5 903.5L876.5 912.5L879.5 912.5L879.5 930.5L882.5 930.5L882.5 948.5L885.5 948.5L885.5 972.5L888.5 972.5L888.5 993.5L891.5 993.5L891.5 1014.5L894.5 1014.5L894.5 1022.5L897.5 1022.5L897.5 1038.5L899.5 1038.5L899.5 1044.5L906.5 1044.5L906.5 1041.5L909.5 1041.5L909.5 1035.5L912.5 1035.5L912.5 1032.5L915.5 1032.5L915.5 1027.5L918.5 1027.5L918.5 1020.5L921.5 1020.5L921.5 1017.5L941.5 1017.5L941.5 1020.5L945.5 1020.5L945.5 1028.5L948.5 1028.5L948.5 1035.5L951.5 1035.5L951.5 1040.5L954.5 1040.5L954.5 1056.5L956.5 1056.5L956.5 1068.5L960.5 1068.5L960.5 1083.5L963.5 1083.5L963.5 1095.5L966.5 1095.5L966.5 1110.5L966.5 1109.5L966.5 1110.5L969.5 1110.5L969.5 1116.5L972.5 1116.5L972.5 1131.5L975.5 1131.5L975.5 1146.5L978.5 1146.5L978.5 1167.5L981.5 1167.5L981.5 1191.5L983.5 1191.5L983.5 1218.5L987.5 1218.5L987.5 1233.5L990.5 1233.5L990.5 1254.5L993.5 1254.5L993.5 1266.5L996.5 1266.5L996.5 1272.5L1002.5 1272.5L1002.5 1275.5L1014.5 1275.5L1014.5 1272.5L1017.5 1272.5L1017.5 1266.5L1020.5 1266.5L1020.5 1251.5L1023.5 1251.5L1023.5 1236.5L1026.5 1236.5L1026.5 1233.5L1028.5 1233.5L1028.5 1251.5L1032.5 1251.5L1032.5 1251.5L1035.5 1251.5L1035.5 1260.5L1038.5 1260.5L1038.5 1263.5L1047.5 1263.5L1047.5 1260.5L1050.5 1260.5L1050.5 1254.5L1053.5 1254.5L1053.5 1245.5L1056.5 1245.5L1056.5 1233.5L1059.5 1233.5L1059.5 1218.5L1062.5 1218.5L1062.5 1212.5L1065.5 1212.5L1065.5 1203.5L1067.5 1203.5L1067.5 1197.5L1071.5 1197.5L1071.5 1176.5L1074.5 1176.5L1074.5 1173.5L1074.5 1173.5L1074.5 1173.5L1077.5 1173.5L1077.5 1170.5L1080.5 1170.5L1080.5 1167.5L1104.5 1167.5L1104.5 1170.5L1107.5 1170.5L1107.5 1179.5L1110.5 1179.5L1110.5 1188.5L1113.5 1188.5L1113.5 1197.5L1116.5 1197.5L1116.5 1212.5L1119.5 1212.5L1119.5 1218.5L1122.5 1218.5L1122.5 1221.5L1125.5 1221.5L1125.5 1239.5L1128.5 1239.5L1128.5 1245.5L1131.5 1245.5L1131.5 1248.5L1143.5 1248.5L1143.5 1245.5L1146.5 1245.5L1146.5 1248.5L1149.5 1248.5L1149.5 1251.5L1152.5 1251.5L1152.5 1257.5L1157.5 1257.5L1157.5 1260.5L1167.5 1260.5L1167.5 1257.5L1170.5 1257.5L1170.5 1248.5L1173.5 1248.5L1173.5 1236.5L1176.5 1236.5L1176.5 1230.5L1179.5 1230.5L1179.5 1212.5L1182.5 1212.5L1182.5 1194.5L1185.5 1194.5L1185.5 1176.5L1188.5 1176.5L1188.5 1170.5L1191.5 1170.5L1191.5 1179.5L1194.5 1179.5L1194.5 1188.5L1197.5 1188.5L1197.5 1209.5L1200.5 1209.5L1199.5 1209.5L1200.5 1209.5L1200.5 1228.5L1203.5 1228.5L1203.5 1239.5L1206.5 1239.5L1206.5 1245.5L1212.5 1245.5L1212.5 1242.5L1215.5 1242.5L1215.5 1233.5L1218.5 1233.5L1218.5 1212.5L1221.5 1212.5L1221.5 1182.5L1224.5 1182.5L1224.5 1149.5L1227.5 1149.5L1227.5 1116.5L1230.5 1116.5L1230.5 1098.5L1233.5 1098.5L1233.5 1065.5L1236.5 1065.5L1236.5 1040.5L1236.5 1039.5L1236.5 1033.5L1239.5 1033.5L1239.5 1007.5L1242.5 1007.5L1242.5 975.5L1245.5 975.5L1245.5 939.5L1248.5 939.5L1248.5 918.5L1251.5 918.5L1251.5 879.5L1254.5 879.5L1254.5 852.5L1257.5 852.5L1257.5 837.5L1259.5 837.5L1259.5 834.5L1260.5 834.5L1260.5 837.5L1263.5 837.5L1263.5 846.5L1266.5 846.5L1266.5 869.5L1269.5 869.5L1269.5 884.5L1272.5 884.5L1272.5 915.5L1275.5 915.5L1275.5 942.5L1278.5 942.5L1278.5 967.5L1281.5 967.5L1281.5 993.5L1284.5 993.5L1284.5 1017.5L1287.5 1017.5L1287.5 1029.5L1290.5 1029.5L1290.5 1050.5L1290.5 1050.5L1290.5 1050.5L1293.5 1050.5L1293.5 1077.5L1296.5 1077.5L1296.5 1107.5L1299.5 1107.5L1299.5 1137.5L1302.5 1137.5L1302.5 1164.5L1305.5 1164.5L1305.5 1179.5L1307.5 1179.5L1307.5 1192.5L1310.5 1192.5L1310.5 1206.5L1311.5 1206.5L1311.5 1227.5L1314.5 1227.5L1314.5 1243.5L1317.5 1243.5L1317.5 1251.5L1320.5 1251.5L1320.5 1257.5L1323.5 1257.5L1323.5 1260.5L1326.5 1260.5L1326.5 1263.5L1329.5 1263.5L1329.5 1260.5L1332.5 1260.5L1332.5 1257.5L1335.5 1257.5L1335.5 1251.5L1338.5 1251.5L1338.5 1236.5L1341.5 1236.5L1341.5 1230.5L1344.5 1230.5L1344.5 1221.5L1347.5 1221.5L1347.5 1215.5L1353.5 1215.5L1353.5 1218.5L1356.5 1218.5L1356.5 1223.5L1358.5 1223.5L1358.5 1227.5L1364.5 1227.5L1364.5 1230.5L1368.5 1230.5L1368.5 1233.5L1371.5 1233.5L1371.5 1236.5L1374.5 1236.5L1374.5 1242.5L1377.5 1242.5L1377.5 1251.5L1380.5 1251.5L1380.5 1254.5L1383.5 1254.5L1383.5 1260.5L1386.5 1260.5L1386.5 1266.5L1389.5 1266.5L1389.5 1274.5L1400.5 1274.5L1400.5 1275.5L1434.5 1275.5L1434.5 1272.5L1437.5 1272.5L1437.5 1269.5L1440.5 1269.5L1440.5 1266.5L1444.5 1266.5L1444.5 1260.5L1446.5 1260.5L1446.5 1254.5L1449.5 1254.5L1449.5 1251.5L1479.5 1251.5L1479.5 1248.5L1488.5 1248.5L1488.5 1245.5L1497.5 1245.5L1497.5 1251.5L1499.5 1251.5L1499.5 1257.5L1503.5 1257.5L1503.5 1266.5L1506.5 1266.5L1506.5 1272.5L1512.5 1272.5L1512.5 1275.5L1557.5 1275.5L1557.5 1272.5L1560.5 1272.5L1559.5 1272.5L1560.5 1272.5L1560.5 1260.5L1563.5 1260.5L1563.5 1272.5L1569.5 1272.5L1569.5 1275.5L1593.5 1275.5L1593.5 1272.5L1596.5 1272.5L1596.5 1269.5L1599.5 1269.5L1599.5 1263.5L1602.5 1263.5L1602.5 1257.5L1605.5 1257.5L1605.5 1239.5L1608.5 1239.5L1608.5 1215.5L1611.5 1215.5L1611.5 1188.5L1614.5 1188.5L1614.5 1167.5L1617.5 1167.5L1617.5 1149.5L1620.5 1149.5L1620.5 1134.5L1623.5 1134.5L1623.5 1128.5L1626.5 1128.5L1626.5 1119.5L1629.5 1119.5L1629.5 1113.5L1632.5 1113.5L1632.5 1110.5L1635.5 1110.5L1635.5 1113.5L1638.5 1113.5L1638.5 1122.5L1641.5 1122.5L1641.5 1128.5L1644.5 1128.5L1644.5 1140.5L1647.5 1140.5L1647.5 1158.5L1650.5 1158.5L1650.5 1176.5L1653.5 1176.5L1653.5 1194.5L1656.5 1194.5L1656.5 1209.5L1659.5 1209.5L1659.5 1215.5L1662.5 1215.5L1662.5 1224.5L1665.5 1224.5L1665.5 1230.5L1668.5 1230.5L1668.5 1233.5L1671.5 1233.5L1671.5 1239.5L1674.5 1239.5L1674.5 1245.5L1677.5 1245.5L1677.5 1248.5L1681.5 1248.5L1681.5 1257.5L1684.5 1257.5L1684.5 1257.5L1684.5 1260.5L1692.5 1260.5L1692.5 1257.5L1695.5 1257.5L1695.5 1248.5L1698.5 1248.5L1698.5 1239.5L1701.5 1239.5L1701.5 1221.5L1704.5 1221.5L1704.5 1200.5L1707.5 1200.5L1707.5 1185.5L1710.5 1185.5L1710.5 1170.5L1713.5 1170.5L1713.5 1158.5L1716.5 1158.5L1716.5 1152.5L1719.5 1152.5L1719.5 1146.5L1722.5 1146.5L1722.5 1143.5L1728.5 1143.5L1728.5 1152.5L1731.5 1152.5L1731.5 1170.5L1734.5 1170.5L1734.5 1182.5L1737.5 1182.5L1737.5 1215.5L1740.5 1215.5L1740.5 1245.5L1743.5 1245.5L1743.5 1263.5L1746.5 1263.5L1746.5 1272.5L1749.5 1272.5L1749.5 1275.5L1788.5 1275.5L1788.5 1272.5L1794.5 1272.5L1794.5 1263.5L1797.5 1263.5L1797.5 1251.5L1800.5 1251.5L1800.5 1242.5L1803.5 1242.5L1803.5 1239.5L1806.5 1239.5L1806.5 1242.5L1809.5 1242.5L1810.5 1242.5L1812.5 1242.5L1812.5 1245.5L1815.5 1245.5L1815.5 1248.5L1821.5 1248.5L1821.5 1245.5L1824.5 1245.5L1824.5 1242.5L1830.5 1242.5L1830.5 1239.5L1836.5 1239.5L1836.5 1242.5L1839.5 1242.5L1839.5 1251.5L1842.5 1251.5L1842.5 1260.5L1845.5 1260.5L1845.5 1266.5L1848.5 1266.5L1848.5 1269.5L1851.5 1269.5L1851.5 1272.5L1854.5 1272.5L1854.5 1275.5L1866.5 1275.5L1866.5 1272.5L1869.5 1272.5L1869.5 1269.5L1872.5 1269.5L1872.5 1263.5L1875.5 1263.5L1875.5 1254.5L1878.5 1254.5" fill="none" stroke="#00ff00" stroke-width="1" shape-rendering="crispEdges"/>
<path d="M210.5 1275.5L495.5 1275.5L525.5 1275.5L525.5 1257.5L528.5 1257.5L528.5 1188.5L531.5 1188.5L531.5 1119.5L534.5 1119.5L534.5 1107.5L537.5 1107.5L537.5 1125.5L540.5 1125.5L540.5 1129.5L543.5 1129.5L543.5 1140.5L546.5 1140.5L546.5 1134.5L549.5 1134.5L549.5 1110.5L552.5 1110.5L552.5 1077.5L555.5 1077.5L555.5 1040.5L555.5 1038.5L558.5 1038.5L558.5 1020.5L561.5 1020.5L561.5 996.5L564.5 996.5L564.5 987.5L567.5 987.5L567.5 1002.5L570.5 1002.5L570.5 1023.5L573.5 1023.5L573.5 1041.5L576.5 1041.5L576.5 1050.5L579.5 1050.5L579.5 1047.5L582.5 1047.5L582.5 1038.5L585.5 1038.5L585.5 1011.5L588.5 1011.5L588.5 978.5L591.5 978.5L591.5 954.5L594.5 954.5L594.5 929.5L597.5 929.5L597.5 922.5L600.5 922.5L600.5 878.5L603.5 878.5L603.5 870.5L603.5 840.5L606.5 840.5L606.5 837.5L609.5 837.5L609.5 834.5L612.5 834.5L612.5 828.5L615.5 828.5L615.5 813.5L618.5 813.5L618.5 759.5L621.5 759.5L621.5 754.5L624.5 754.5L624.5 750.5L627.5 750.5L627.5 726.5L630.5 726.5L630.5 693.5L633.5 693.5L633.5 666.5L636.5 666.5L636.5 660.5L636.5 660.5L636.5 666.5L639.5 666.5L639.5 693.5L642.5 693.5L642.5 726.5L645.5 726.5L645.5 759.5L648.5 759.5L648.5 765.5L651.5 765.5L651.5 768.5L654.5 768.5L654.5 759.5L657.5 759.5L657.5 714.5L660.5 714.5L660.5 620.5L660.5 615.5L663.5 615.5L663.5 498.5L666.5 498.5L666.5 456.5L672.5 456.5L672.5 468.5L675.5 468.5L675.5 453.5L678.5 453.5L678.5 374.5L681.5 374.5L681.5 399.5L684.5 399.5L684.5 479.5L687.5 479.5L687.5 564.5L690.5 564.5L690.5 575.5L693.5 575.5L693.5 480.5L696.5 480.5L696.5 525.5L699.5 525.5L699.5 607.5L702.5 607.5L702.5 640.5L702.5 620.5L702.5 687.5L705.5 687.5L705.5 762.5L708.5 762.5L708.5 777.5L711.5 777.5L711.5 840.5L714.5 840.5L714.5 860.5L714.5 860.5L714.5 969.5L717.5 969.5L717.5 1056.5L720.5 1056.5L720.5 1083.5L723.5 1083.5L723.5 1056.5L729.5 1056.5L729.5 1071.5L732.5 1071.5L732.5 1053.5L735.5 1053.5L735.5 1008.5L738.5 1008.5L738.5 894.5L741.5 894.5L741.5 860.5L741.5 860.5L741.5 849.5L744.5 849.5L744.5 837.5L747.5 837.5L747.5 819.5L750.5 819.5L750.5 779.5L753.5 779.5L753.5 657.5L756.5 657.5L756.5 620.5L756.5 620.5L756.5 600.5L759.5 600.5L759.5 681.5L762.5 681.5L762.5 648.5L765.5 648.5L765.5 609.5L768.5 609.5L768.5 525.5L771.5 525.5L771.5 456.5L774.5 456.5L774.5 414.5L777.5 414.5L777.5 399.5L779.5 399.5L779.5 396.5L780.5 396.5L780.5 404.5L783.5 404.5L783.5 423.5L786.5 423.5L786.5 503.5L789.5 503.5L789.5 597.5L792.5 597.5L792.5 636.5L795.5 636.5L795.5 609.5L798.5 609.5L798.5 531.5L801.5 531.5L801.5 501.5L804.5 501.5L804.5 522.5L807.5 522.5L807.5 552.5L810.5 552.5L810.5 588.5L813.5 588.5L813.5 600.5L816.5 600.5L816.5 639.5L816.5 639.5L816.5 654.5L819.5 654.5L819.5 705.5L822.5 705.5L822.5 786.5L825.5 786.5L825.5 819.5L828.5 819.5L828.5 825.5L828.5 825.5L828.5 810.5L831.5 810.5L831.5 753.5L834.5 753.5L834.5 801.5L837.5 801.5L837.5 846.5L840.5 846.5L840.5 849.5L843.5 849.5L843.5 846.5L846.5 846.5L846.5 813.5L849.5 813.5L849.5 804.5L850.5 804.5L850.5 813.5L852.5 813.5L852.5 855.5L855.5 855.5L855.5 849.5L861.5 849.5L861.5 870.5L864.5 870.5L864.5 880.5L867.5 880.5L867.5 900.5L867.5 899.5L867.5 906.5L870.5 906.5L870.5 909.5L870.5 909.5L870.5 903.5L873.5 903.5L873.5 891.5L873.5 891.5L873.5 894.5L876.5 894.5L876.5 906.5L879.5 906.5L879.5 912.5L882.5 912.5L882.5 906.5L882.5 906.5L882.5 918.5L885.5 918.5L885.5 957.5L888.5 957.5L888.5 978.5L891.5 978.5L891.5 1029.5L894.5 1029.5L894.5 1047.5L897.5 1047.5L897.5 1062.5L899.5 1062.5L899.5 1071.5L903.5 1071.5L903.5 1053.5L906.5 1053.5L906.5 1032.5L909.5 1032.5L909.5 1017.5L912.5 1017.5L912.5 1008.5L915.5 1008.5L915.5 1005.5L918.5 1005.5L918.5 999.5L921.5 999.5L921.5 1011.5L924.5 1011.5L924.5 1032.5L927.5 1032.5L927.5 1044.5L929.5 1044.5L929.5 1050.5L930.5 1050.5L930.5 1047.5L933.5 1047.5L933.5 1032.5L936.5 1032.5L936.5 1014.5L939.5 1014.5L939.5 1020.5L942.5 1020.5L942.5 1005.5L945.5 1005.5L945.5 1014.5L951.5 1014.5L951.5 1020.5L954.5 1020.5L954.5 1053.5L956.5 1053.5L956.5 1074.5L960.5 1074.5L960.5 1095.5L963.5 1095.5L963.5 1110.5L963.5 1109.5L963.5 1113.5L966.5 1113.5L966.5 1131.5L969.5 1131.5L969.5 1140.5L972.5 1140.5L972.5 1146.5L972.5 1146.5L972.5 1142.5L975.5 1142.5L975.5 1128.5L978.5 1128.5L978.5 1131.5L981.5 1131.5L981.5 1164.5L984.5 1164.5L984.5 1218.5L987.5 1218.5L987.5 1245.5L990.5 1245.5L990.5 1269.5L993.5 1269.5L993.5 1275.5L1020.5 1275.5L1020.5 1266.5L1023.5 1266.5L1023.5 1197.5L1026.5 1197.5L1026.5 1188.5L1029.5 1188.5L1029.5 1239.5L1032.5 1239.5L1032.5 1263.5L1035.5 1263.5L1035.5 1269.5L1047.5 1269.5L1047.5 1266.5L1050.5 1266.5L1050.5 1260.5L1053.5 1260.5L1053.5 1245.5L1056.5 1245.5L1056.5 1221.5L1059.5 1221.5L1059.5 1206.5L1062.5 1206.5L1062.5 1203.5L1065.5 1203.5L1065.5 1191.5L1068.5 1191.5L1068.5 1182.5L1071.5 1182.5L1071.5 1188.5L1074.5 1188.5L1074.5 1184.5L1074.5 1184.5L1074.5 1185.5L1077.5 1185.5L1077.5 1182.5L1080.5 1182.5L1080.5 1179.5L1083.5 1179.5L1083.5 1155.5L1086.5 1155.5L1086.5 1152.5L1086.5 1152.5L1086.5 1158.5L1089.5 1158.5L1089.5 1161.5L1095.5 1161.5L1095.5 1164.5L1098.5 1164.5L1098.5 1170.5L1101.5 1170.5L1101.5 1176.5L1104.5 1176.5L1104.5 1185.5L1110.5 1185.5L1110.5 1182.5L1116.5 1182.5L1116.5 1200.5L1119.5 1200.5L1119.5 1209.5L1122.5 1209.5L1122.5 1230.5L1125.5 1230.5L1125.5 1245.5L1128.5 1245.5L1128.5 1254.5L1131.5 1254.5L1131.5 1260.5L1134.5 1260.5L1134.5 1257.5L1137.5 1257.5L1137.5 1254.5L1140.5 1254.5L1140.5 1242.5L1143.5 1242.5L1143.5 1230.5L1146.5 1230.5L1146.5 1239.5L1149.5 1239.5L1149.5 1254.5L1152.5 1254.5L1152.5 1263.5L1155.5 1263.5L1155.5 1266.5L1161.5 1266.5L1161.5 1263.5L1164.5 1263.5L1164.5 1257.5L1167.5 1257.5L1167.5 1245.5L1170.5 1245.5L1170.5 1227.5L1173.5 1227.5L1173.5 1218.5L1176.5 1218.5L1176.5 1227.5L1179.5 1227.5L1179.5 1242.5L1182.5 1242.5L1182.5 1239.5L1185.5 1239.5L1185.5 1218.5L1188.5 1218.5L1188.5 1164.5L1191.5 1164.5L1191.5 1140.5L1191.5 1140.5L1191.5 1113.5L1194.5 1113.5L1194.5 1116.5L1197.5 1116.5L1197.5 1170.5L1200.5 1170.5L1200.5 1230.5L1203.5 1230.5L1203.5 1260.5L1206.5 1260.5L1206.5 1269.5L1209.5 1269.5L1209.5 1272.5L1212.5 1272.5L1212.5 1269.5L1215.5 1269.5L1215.5 1266.5L1218.5 1266.5L1218.5 1239.5L1221.5 1239.5L1221.5 1180.5L1224.5 1180.5L1224.5 1098.5L1227.5 1098.5L1227.5 1050.5L1230.5 1050.5L1230.5 1040.5L1230.5 1039.5L1230.5 1038.5L1233.5 1038.5L1233.5 1026.5L1236.5 1026.5L1236.5 1047.5L1239.5 1047.5L1239.5 1065.5L1242.5 1065.5L1242.5 1056.5L1245.5 1056.5L1245.5 1008.5L1248.5 1008.5L1248.5 954.5L1251.5 954.5L1251.5 834.5L1254.5 834.5L1254.5 792.5L1257.5 792.5L1257.5 795.5L1260.5 795.5L1260.5 813.5L1263.5 813.5L1263.5 828.5L1266.5 828.5L1266.5 879.5L1269.5 879.5L1269.5 915.5L1272.5 915.5L1272.5 969.5L1275.5 969.5L1275.5 975.5L1278.5 975.5L1278.5 966.5L1281.5 966.5L1281.5 975.5L1284.5 975.5L1284.5 1005.5L1287.5 1005.5L1287.5 1023.5L1290.5 1023.5L1290.5 1026.5L1293.5 1026.5L1293.5 1050.5L1293.5 1050.5L1293.5 1062.5L1296.5 1062.5L1296.5 1119.5L1298.5 1119.5L1298.5 1161.5L1302.5 1161.5L1302.5 1176.5L1307.5 1176.5L1307.5 1190.5L1311.5 1190.5L1311.5 1221.5L1313.5 1221.5L1313.5 1242.5L1317.5 1242.5L1317.5 1254.5L1320.5 1254.5L1320.5 1260.5L1323.5 1260.5L1323.5 1263.5L1326.5 1263.5L1326.5 1269.5L1332.5 1269.5L1332.5 1263.5L1335.5 1263.5L1335.5 1248.5L1338.5 1248.5L1338.5 1223.5L1341.5 1223.5L1341.5 1212.5L1344.5 1212.5L1344.5 1203.5L1347.5 1203.5L1347.5 1200.5L1347.5 1200.5L1347.5 1205.5L1350.5 1205.5L1350.5 1223.5L1352.5 1223.5L1352.5 1236.5L1356.5 1236.5L1356.5 1239.5L1358.5 1239.5L1358.5 1242.5L1362.5 1242.5L1362.5 1236.5L1364.5 1236.5L1364.5 1223.5L1368.5 1223.5L1368.5 1230.5L1371.5 1230.5L1371.5 1212.5L1374.5 1212.5L1374.5 1200.5L1374.5 1200.5L1374.5 1218.5L1377.5 1218.5L1377.5 1266.5L1380.5 1266.5L1380.5 1272.5L1383.5 1272.5L1383.5 1274.5L1400.5 1274.5L1400.5 1275.5L1440.5 1275.5L1440.5 1266.5L1443.5 1266.5L1443.5 1254.5L1446.5 1254.5L1446.5 1248.5L1449.5 1248.5L1449.5 1251.5L1452.5 1251.5L1452.5 1254.5L1455.5 1254.5L1455.5 1257.5L1461.5 1257.5L1461.5 1254.5L1464.5 1254.5L1464.5 1251.5L1467.5 1251.5L1467.5 1248.5L1476.5 1248.5L1476.5 1245.5L1479.5 1245.5L1479.5 1248.5L1482.5 1248.5L1482.5 1254.5L1491.5 1254.5L1491.5 1251.5L1494.5 1251.5L1494.5 1239.5L1497.5 1239.5L1497.5 1236.5L1500.5 1236.5L1500.5 1254.5L1503.5 1254.5L1503.5 1272.5L1506.5 1272.5L1506.5 1275.5L1560.5 1275.5L1559.5 1275.5L1563.5 1275.5L1563.5 1248.5L1566.5 1248.5L1566.5 1218.5L1569.5 1218.5L1569.5 1263.5L1572.5 1263.5L1572.5 1275.5L1602.5 1275.5L1602.5 1272.5L1605.5 1272.5L1605.5 1257.5L1608.5 1257.5L1608.5 1206.5L1611.5 1206.5L1611.5 1146.5L1614.5 1146.5L1614.5 1134.5L1617.5 1134.5L1617.5 1158.5L1626.5 1158.5L1626.5 1146.5L1629.5 1146.5L1629.5 1134.5L1632.5 1134.5L1632.5 1119.5L1635.5 1119.5L1635.5 1104.5L1638.5 1104.5L1638.5 1101.5L1641.5 1101.5L1641.5 1104.5L1644.5 1104.5L1644.5 1110.5L1647.5 1110.5L1647.5 1137.5L1650.5 1137.5L1650.5 1182.5L1653.5 1182.5L1653.5 1221.5L1656.5 1221.5L1656.5 1239.5L1659.5 1239.5L1659.5 1242.5L1662.5 1242.5L1662.5 1245.5L1665.5 1245.5L1665.5 1242.5L1668.5 1242.5L1668.5 1218.5L1671.5 1218.5L1671.5 1185.5L1674.5 1185.5L1674.5 1215.5L1677.5 1215.5L1677.5 1239.5L1680.5 1239.5L1680.5 1260.5L1683.5 1260.5L1683.5 1272.5L1684.5 1272.5L1684.5 1272.5L1686.5 1272.5L1686.5 1275.5L1692.5 1275.5L1692.5 1272.5L1695.5 1272.5L1695.5 1269.5L1698.5 1269.5L1698.5 1263.5L1701.5 1263.5L1701.5 1212.5L1704.5 1212.5L1704.5 1137.5L1707.5 1137.5L1707.5 1131.5L1707.5 1131.5L1707.5 1140.5L1710.5 1140.5L1710.5 1161.5L1713.5 1161.5L1713.5 1176.5L1716.5 1176.5L1716.5 1182.5L1719.5 1182.5L1719.5 1188.5L1722.5 1188.5L1722.5 1191.5L1722.5 1191.5L1722.5 1185.5L1725.5 1185.5L1725.5 1164.5L1728.5 1164.5L1728.5 1113.5L1731.5 1113.5L1731.5 1092.5L1731.5 1092.5L1731.5 1098.5L1734.5 1098.5L1734.5 1128.5L1737.5 1128.5L1737.5 1227.5L1740.5 1227.5L1740.5 1272.5L1743.5 1272.5L1743.5 1275.5L1797.5 1275.5L1797.5 1263.5L1800.5 1263.5L1800.5 1227.5L1803.5 1227.5L1803.5 1215.5L1806.5 1215.5L1806.5 1233.5L1809.5 1233.5L1809.5 1233.5L1809.5 1242.5L1812.5 1242.5L1812.5 1254.5L1815.5 1254.5L1815.5 1257.5L1818.5 1257.5L1818.5 1260.5L1821.5 1260.5L1821.5 1257.5L1824.5 1257.5L1824.5 1248.5L1827.5 1248.5L1827.5 1242.5L1830.5 1242.5L1830.5 1230.5L1833.5 1230.5L1833.5 1221.5L1836.5 1221.5L1836.5 1227.5L1839.5 1227.5L1839.5 1251.5L1842.5 1251.5L1842.5 1272.5L1848.5 1272.5L1848.5 1275.5L1872.5 1275.5L1872.5 1266.5L1875.5 1266.5L1875.5 1224.5L1878.5 1224.5L1878.5 1230.5" fill="none" stroke="#ff00ff" stroke-width="1" shape-rendering="crispEdges"/>
<g font-family='"Liberation Sans", Arial, Helvetica, sans-serif' fill="#000">
<text transform="translate(199.50,1293.92) scale(1,1.03)" font-size="46.5" text-anchor="end">0</text>
<text transform="translate(201.00,1113.92) scale(1,1.03)" font-size="46.5" text-anchor="end">1000</text>
<text transform="translate(201.00,935.92) scale(1,1.03)" font-size="46.5" text-anchor="end">2000</text>
<text transform="translate(201.00,756.92) scale(1,1.03)" font-size="46.5" text-anchor="end">3000</text>
<text transform="translate(201.00,579.92) scale(1,1.03)" font-size="46.5" text-anchor="end">4000</text>
<text transform="translate(201.00,399.92) scale(1,1.03)" font-size="46.5" text-anchor="end">5000</text>
<text transform="translate(201.00,222.92) scale(1,1.03)" font-size="46.5" text-anchor="end">6000</text>
<text transform="translate(210.50,1320.50) scale(1,1.06)" font-size="46" text-anchor="middle">0</text>
<text transform="translate(533.00,1320.50) scale(1,1.06)" font-size="46" text-anchor="middle">200</text>
<text transform="translate(861.00,1320.50) scale(1,1.06)" font-size="46" text-anchor="middle">400</text>
<text transform="translate(1188.50,1320.50) scale(1,1.06)" font-size="46" text-anchor="middle">600</text>
<text transform="translate(1515.50,1320.50) scale(1,1.06)" font-size="46" text-anchor="middle">800</text>
<text transform="translate(1839.50,1320.50) scale(1,1.06)" font-size="46" text-anchor="middle">1000</text>
<text transform="translate(396.00,66.00) scale(1,1.056)" font-size="49.1" text-anchor="start">Influence of # of iterations in deconvolution in peak searching</text>
</g>
<g shape-rendering="crispEdges"><rect x="1629.5" y="93.5" width="417" height="225" fill="#fff" stroke="#000" stroke-width="1"/>
<path d="M1629.5 150.5H2046.5" stroke="#000" stroke-width="1"/></g>
<g font-family='"Liberation Sans", Arial, Helvetica, sans-serif' fill="#000">
<text transform="translate(1837.20,138.50) scale(1,1.02)" font-size="48.1" text-anchor="middle">back2</text>
<text transform="translate(1650.00,196.00) scale(1,1.02)" font-size="48.1" text-anchor="start">Entries</text>
<text transform="translate(2025.00,196.00) scale(1,1.02)" font-size="48.1" text-anchor="end">4096</text>
<text transform="translate(1650.00,252.90) scale(1,1.02)" font-size="48.1" text-anchor="start">Mean</text>
<text transform="translate(2025.00,252.90) scale(1,1.02)" font-size="48.1" text-anchor="end">598.8</text>
<text transform="translate(1650.00,309.80) scale(1,1.02)" font-size="48.1" text-anchor="start">Std Dev</text>
<text transform="translate(2025.00,309.80) scale(1,1.02)" font-size="48.1" text-anchor="end">232.7</text>
</g>
</svg></body></html>
